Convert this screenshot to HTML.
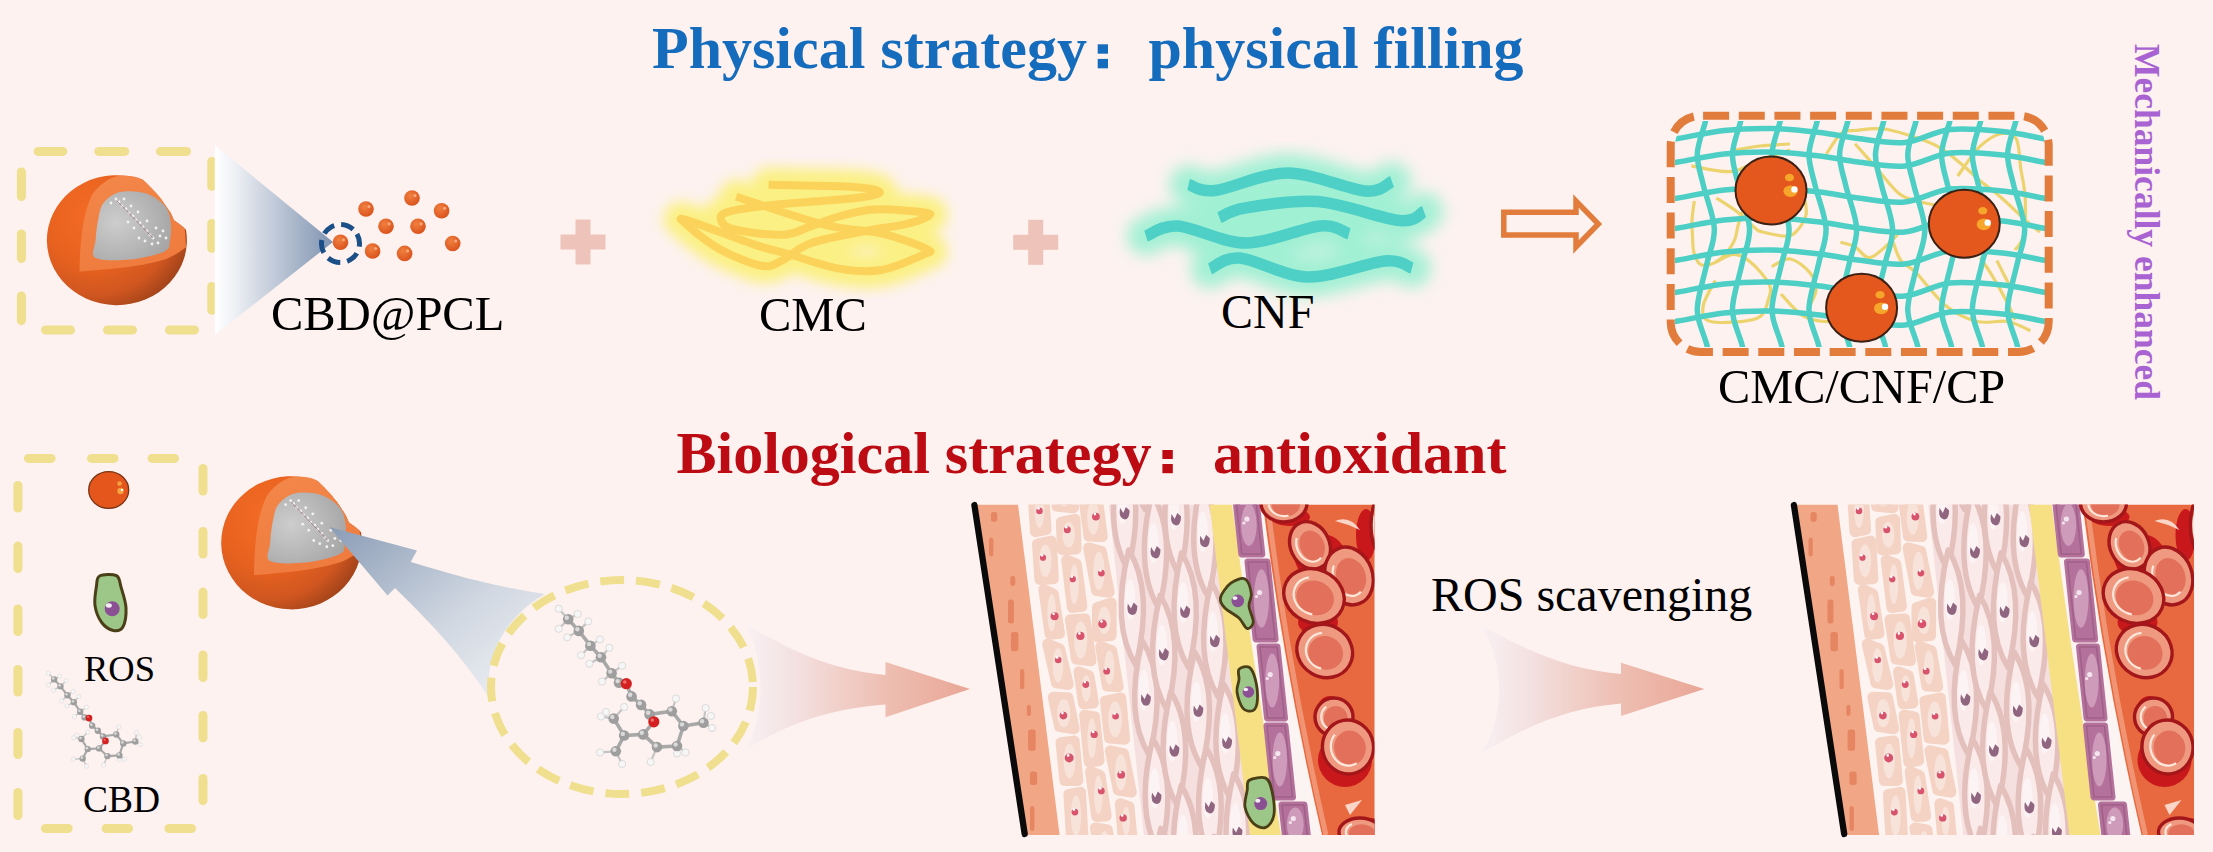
<!DOCTYPE html>
<html><head><meta charset="utf-8"><title>CMC/CNF/CP strategy</title>
<style>
html,body{margin:0;padding:0;width:2213px;height:852px;overflow:hidden;background:#fdf2ef;}
svg{display:block;}
text{font-family:"Liberation Serif",serif;font-variant-ligatures:none;}
</style></head><body>
<svg width="2213" height="852" viewBox="0 0 2213 852">
<defs>
<linearGradient id="coneG" x1="0" y1="0" x2="1" y2="0">
  <stop offset="0" stop-color="#ffffff"/><stop offset="0.15" stop-color="#f0f2f6"/><stop offset="1" stop-color="#7f93b0"/>
</linearGradient>
<radialGradient id="orangeG" gradientUnits="userSpaceOnUse" cx="95" cy="215" r="100">
  <stop offset="0" stop-color="#f46c26"/><stop offset="0.5" stop-color="#e8621f"/><stop offset="0.8" stop-color="#d05620"/><stop offset="1" stop-color="#a4441a"/>
</radialGradient>
<linearGradient id="cutG" x1="0" y1="0" x2="0.3" y2="1">
  <stop offset="0" stop-color="#f3874a"/><stop offset="1" stop-color="#ef7c3e"/>
</linearGradient>
<radialGradient id="greyG" cx="0.3" cy="0.45" r="0.8">
  <stop offset="0" stop-color="#cdcdcd"/><stop offset="0.6" stop-color="#b4b4b4"/><stop offset="1" stop-color="#a2a2a2"/>
</radialGradient>
<radialGradient id="dotG" cx="0.4" cy="0.35" r="0.7">
  <stop offset="0" stop-color="#f08040"/><stop offset="1" stop-color="#d9501a"/>
</radialGradient>
<linearGradient id="pinkArrG" x1="0" y1="0" x2="1" y2="0">
  <stop offset="0" stop-color="#f8f0f3"/><stop offset="0.2" stop-color="#f4e2e2"/><stop offset="0.6" stop-color="#eec0b4"/><stop offset="1" stop-color="#e9a696"/>
</linearGradient>
<linearGradient id="blueArrG" x1="1" y1="1" x2="0" y2="0">
  <stop offset="0" stop-color="#f4f4f7"/><stop offset="0.45" stop-color="#d0d7e1"/><stop offset="1" stop-color="#8a9cb6"/>
</linearGradient>
<filter id="blur6" x="-30%" y="-30%" width="160%" height="160%"><feGaussianBlur stdDeviation="6.5"/></filter>
<filter id="blur8" x="-30%" y="-30%" width="160%" height="160%"><feGaussianBlur stdDeviation="8"/></filter>
<filter id="blur4" x="-30%" y="-30%" width="160%" height="160%"><feGaussianBlur stdDeviation="5"/></filter>
<g id="mol"><line x1="568.2" y1="619.3" x2="578.8" y2="630.9" stroke="#a8a8a8" stroke-width="3.6"/>
<line x1="578.8" y1="630.9" x2="590.4" y2="645.7" stroke="#a8a8a8" stroke-width="3.6"/>
<line x1="590.4" y1="645.7" x2="601" y2="657.3" stroke="#a8a8a8" stroke-width="3.6"/>
<line x1="601" y1="657.3" x2="611.6" y2="673.2" stroke="#a8a8a8" stroke-width="3.6"/>
<line x1="611.6" y1="673.2" x2="619" y2="682.7" stroke="#a8a8a8" stroke-width="3.6"/>
<line x1="619" y1="682.7" x2="626.3" y2="683.7" stroke="#a8a8a8" stroke-width="3.6"/>
<line x1="626.3" y1="683.7" x2="631.6" y2="696.4" stroke="#a8a8a8" stroke-width="3.6"/>
<line x1="631.6" y1="696.4" x2="641.1" y2="704.9" stroke="#a8a8a8" stroke-width="3.6"/>
<line x1="641.1" y1="704.9" x2="649.6" y2="714.4" stroke="#a8a8a8" stroke-width="3.6"/>
<line x1="649.6" y1="714.4" x2="653.8" y2="721.8" stroke="#a8a8a8" stroke-width="3.6"/>
<line x1="649.6" y1="714.4" x2="671.8" y2="711.2" stroke="#a8a8a8" stroke-width="3.6"/>
<line x1="671.8" y1="711.2" x2="683.4" y2="726" stroke="#a8a8a8" stroke-width="3.6"/>
<line x1="683.4" y1="726" x2="703.5" y2="722.8" stroke="#a8a8a8" stroke-width="3.6"/>
<line x1="683.4" y1="726" x2="677" y2="746" stroke="#a8a8a8" stroke-width="3.6"/>
<line x1="677" y1="746" x2="657" y2="747.1" stroke="#a8a8a8" stroke-width="3.6"/>
<line x1="657" y1="747.1" x2="643.2" y2="734.4" stroke="#a8a8a8" stroke-width="3.6"/>
<line x1="643.2" y1="734.4" x2="653.8" y2="721.8" stroke="#a8a8a8" stroke-width="3.6"/>
<line x1="643.2" y1="734.4" x2="624.2" y2="735.5" stroke="#a8a8a8" stroke-width="3.6"/>
<line x1="624.2" y1="735.5" x2="615.8" y2="751.3" stroke="#a8a8a8" stroke-width="3.6"/>
<line x1="624.2" y1="735.5" x2="613.7" y2="718.6" stroke="#a8a8a8" stroke-width="3.6"/>
<line x1="558.7" y1="608.7" x2="568.2" y2="619.3" stroke="#c4c4c4" stroke-width="2.2"/>
<line x1="577.7" y1="614" x2="568.2" y2="619.3" stroke="#c4c4c4" stroke-width="2.2"/>
<line x1="558.7" y1="628.8" x2="568.2" y2="619.3" stroke="#c4c4c4" stroke-width="2.2"/>
<line x1="567.2" y1="637.3" x2="578.8" y2="630.9" stroke="#c4c4c4" stroke-width="2.2"/>
<line x1="588.3" y1="621.4" x2="578.8" y2="630.9" stroke="#c4c4c4" stroke-width="2.2"/>
<line x1="600" y1="639.4" x2="590.4" y2="645.7" stroke="#c4c4c4" stroke-width="2.2"/>
<line x1="581" y1="655.2" x2="590.4" y2="645.7" stroke="#c4c4c4" stroke-width="2.2"/>
<line x1="609.4" y1="647.8" x2="601" y2="657.3" stroke="#c4c4c4" stroke-width="2.2"/>
<line x1="589.4" y1="663.7" x2="601" y2="657.3" stroke="#c4c4c4" stroke-width="2.2"/>
<line x1="622.1" y1="665.8" x2="611.6" y2="673.2" stroke="#c4c4c4" stroke-width="2.2"/>
<line x1="602" y1="681.6" x2="611.6" y2="673.2" stroke="#c4c4c4" stroke-width="2.2"/>
<line x1="676" y1="698.5" x2="671.8" y2="711.2" stroke="#c4c4c4" stroke-width="2.2"/>
<line x1="705.6" y1="708" x2="703.5" y2="722.8" stroke="#c4c4c4" stroke-width="2.2"/>
<line x1="712" y1="728" x2="703.5" y2="722.8" stroke="#c4c4c4" stroke-width="2.2"/>
<line x1="601" y1="716.5" x2="613.7" y2="718.6" stroke="#c4c4c4" stroke-width="2.2"/>
<line x1="624.2" y1="707" x2="613.7" y2="718.6" stroke="#c4c4c4" stroke-width="2.2"/>
<line x1="600" y1="752.4" x2="615.8" y2="751.3" stroke="#c4c4c4" stroke-width="2.2"/>
<line x1="622.1" y1="764" x2="615.8" y2="751.3" stroke="#c4c4c4" stroke-width="2.2"/>
<line x1="650.6" y1="762" x2="657" y2="747.1" stroke="#c4c4c4" stroke-width="2.2"/>
<line x1="677" y1="753.5" x2="677" y2="746" stroke="#c4c4c4" stroke-width="2.2"/>
<line x1="685.5" y1="752.4" x2="677" y2="746" stroke="#c4c4c4" stroke-width="2.2"/>
<circle cx="558.7" cy="608.7" r="3.6" fill="#f6f6f6" stroke="#d0d0d0" stroke-width="0.7"/>
<circle cx="577.7" cy="614" r="3.6" fill="#f6f6f6" stroke="#d0d0d0" stroke-width="0.7"/>
<circle cx="588.3" cy="621.4" r="3.6" fill="#f6f6f6" stroke="#d0d0d0" stroke-width="0.7"/>
<circle cx="558.7" cy="628.8" r="3.6" fill="#f6f6f6" stroke="#d0d0d0" stroke-width="0.7"/>
<circle cx="567.2" cy="637.3" r="3.6" fill="#f6f6f6" stroke="#d0d0d0" stroke-width="0.7"/>
<circle cx="600" cy="639.4" r="3.6" fill="#f6f6f6" stroke="#d0d0d0" stroke-width="0.7"/>
<circle cx="609.4" cy="647.8" r="3.6" fill="#f6f6f6" stroke="#d0d0d0" stroke-width="0.7"/>
<circle cx="581" cy="655.2" r="3.6" fill="#f6f6f6" stroke="#d0d0d0" stroke-width="0.7"/>
<circle cx="589.4" cy="663.7" r="3.6" fill="#f6f6f6" stroke="#d0d0d0" stroke-width="0.7"/>
<circle cx="622.1" cy="665.8" r="3.6" fill="#f6f6f6" stroke="#d0d0d0" stroke-width="0.7"/>
<circle cx="602" cy="681.6" r="3.6" fill="#f6f6f6" stroke="#d0d0d0" stroke-width="0.7"/>
<circle cx="676" cy="698.5" r="3.6" fill="#f6f6f6" stroke="#d0d0d0" stroke-width="0.7"/>
<circle cx="705.6" cy="708" r="3.6" fill="#f6f6f6" stroke="#d0d0d0" stroke-width="0.7"/>
<circle cx="712" cy="728" r="3.6" fill="#f6f6f6" stroke="#d0d0d0" stroke-width="0.7"/>
<circle cx="601" cy="716.5" r="3.6" fill="#f6f6f6" stroke="#d0d0d0" stroke-width="0.7"/>
<circle cx="624.2" cy="707" r="3.6" fill="#f6f6f6" stroke="#d0d0d0" stroke-width="0.7"/>
<circle cx="600" cy="752.4" r="3.6" fill="#f6f6f6" stroke="#d0d0d0" stroke-width="0.7"/>
<circle cx="622.1" cy="764" r="3.6" fill="#f6f6f6" stroke="#d0d0d0" stroke-width="0.7"/>
<circle cx="650.6" cy="762" r="3.6" fill="#f6f6f6" stroke="#d0d0d0" stroke-width="0.7"/>
<circle cx="677" cy="753.5" r="3.6" fill="#f6f6f6" stroke="#d0d0d0" stroke-width="0.7"/>
<circle cx="685.5" cy="752.4" r="3.6" fill="#f6f6f6" stroke="#d0d0d0" stroke-width="0.7"/>
<circle cx="711" cy="716" r="3.6" fill="#f6f6f6" stroke="#d0d0d0" stroke-width="0.7"/>
<circle cx="606" cy="712" r="3.6" fill="#f6f6f6" stroke="#d0d0d0" stroke-width="0.7"/>
<circle cx="568.2" cy="619.3" r="5.3" fill="#9e9e9e"/><circle cx="566.8000000000001" cy="617.6999999999999" r="2.2" fill="#dadada"/>
<circle cx="578.8" cy="630.9" r="5.3" fill="#9e9e9e"/><circle cx="577.4" cy="629.3" r="2.2" fill="#dadada"/>
<circle cx="590.4" cy="645.7" r="5.3" fill="#9e9e9e"/><circle cx="589.0" cy="644.1" r="2.2" fill="#dadada"/>
<circle cx="601" cy="657.3" r="5.3" fill="#9e9e9e"/><circle cx="599.6" cy="655.6999999999999" r="2.2" fill="#dadada"/>
<circle cx="611.6" cy="673.2" r="5.3" fill="#9e9e9e"/><circle cx="610.2" cy="671.6" r="2.2" fill="#dadada"/>
<circle cx="619" cy="682.7" r="5.3" fill="#9e9e9e"/><circle cx="617.6" cy="681.1" r="2.2" fill="#dadada"/>
<circle cx="626.3" cy="683.7" r="5.6" fill="#d42020"/><circle cx="624.8" cy="682.0" r="1.8" fill="#f07070"/>
<circle cx="631.6" cy="696.4" r="5.3" fill="#9e9e9e"/><circle cx="630.2" cy="694.8" r="2.2" fill="#dadada"/>
<circle cx="641.1" cy="704.9" r="5.3" fill="#9e9e9e"/><circle cx="639.7" cy="703.3" r="2.2" fill="#dadada"/>
<circle cx="649.6" cy="714.4" r="5.3" fill="#9e9e9e"/><circle cx="648.2" cy="712.8" r="2.2" fill="#dadada"/>
<circle cx="653.8" cy="721.8" r="5.6" fill="#d42020"/><circle cx="652.3" cy="720.0999999999999" r="1.8" fill="#f07070"/>
<circle cx="671.8" cy="711.2" r="5.3" fill="#9e9e9e"/><circle cx="670.4" cy="709.6" r="2.2" fill="#dadada"/>
<circle cx="683.4" cy="726" r="5.3" fill="#9e9e9e"/><circle cx="682.0" cy="724.4" r="2.2" fill="#dadada"/>
<circle cx="703.5" cy="722.8" r="5.3" fill="#9e9e9e"/><circle cx="702.1" cy="721.1999999999999" r="2.2" fill="#dadada"/>
<circle cx="677" cy="746" r="5.3" fill="#9e9e9e"/><circle cx="675.6" cy="744.4" r="2.2" fill="#dadada"/>
<circle cx="657" cy="747.1" r="5.3" fill="#9e9e9e"/><circle cx="655.6" cy="745.5" r="2.2" fill="#dadada"/>
<circle cx="643.2" cy="734.4" r="5.3" fill="#9e9e9e"/><circle cx="641.8000000000001" cy="732.8" r="2.2" fill="#dadada"/>
<circle cx="624.2" cy="735.5" r="5.3" fill="#9e9e9e"/><circle cx="622.8000000000001" cy="733.9" r="2.2" fill="#dadada"/>
<circle cx="615.8" cy="751.3" r="5.3" fill="#9e9e9e"/><circle cx="614.4" cy="749.6999999999999" r="2.2" fill="#dadada"/>
<circle cx="613.7" cy="718.6" r="5.3" fill="#9e9e9e"/><circle cx="612.3000000000001" cy="717.0" r="2.2" fill="#dadada"/></g><g id="sphere"><path d="M142.9,179.8 A70,65 0 1,0 186,229.8 L184.7,228.4 C180,224 176,222 174,220.3 C172,216 171,213 170,212 C166,206 163,202 161.8,200 C157,194 154,191 151,189.3 C148,186 145,182 142.9,179.8 Z" fill="url(#orangeG)"/>
<path d="M79.5,271.6 C80,245 82,215 92,195 C98,186 108,178 118,176 C128,175 137,176 142.9,179.8 C148,184 156,192 161.8,200 C166,206 169,210 170,212 C172,215 173,219 174,220.3 C178,223 182,226 184.7,228.4 L186,247.3 C180,252 172,257 164.5,259.5 C150,264 135,266 124,267.6 C108,269 92,271 79.5,271.6 Z" fill="url(#cutG)"/>
<path d="M103.7,202.8 C107.3,198.3 113.0,193.6 120.0,192.0 C127.0,190.4 138.2,191.1 145.6,193.3 C153.0,195.6 160.3,200.8 164.5,205.5 C168.7,210.2 169.7,215.8 170.6,221.7 C171.5,227.5 171.0,235.6 170.0,240.6 C169.0,245.6 171.1,248.2 164.5,251.4 C157.9,254.6 142.2,258.4 130.7,259.5 C119.2,260.6 101.4,261.1 95.6,258.0 C89.8,254.8 95.1,247.1 95.6,240.6 C96.0,234.1 96.9,225.3 98.3,219.0 C99.7,212.7 100.1,207.3 103.7,202.8 Z" fill="url(#greyG)"/>
<circle cx="116" cy="199" r="1.4" fill="#f2f2f2"/>
<circle cx="119" cy="202" r="1.4" fill="#f2f2f2"/>
<circle cx="122" cy="206" r="1.4" fill="#f2f2f2"/>
<circle cx="126" cy="209" r="1.4" fill="#f2f2f2"/>
<circle cx="129" cy="213" r="1.4" fill="#f2f2f2"/>
<circle cx="133" cy="216" r="1.4" fill="#f2f2f2"/>
<circle cx="136" cy="220" r="1.4" fill="#f2f2f2"/>
<circle cx="140" cy="223" r="1.4" fill="#f2f2f2"/>
<circle cx="143" cy="227" r="1.4" fill="#f2f2f2"/>
<circle cx="147" cy="231" r="1.4" fill="#f2f2f2"/>
<circle cx="150" cy="235" r="1.4" fill="#f2f2f2"/>
<circle cx="153" cy="238" r="1.4" fill="#f2f2f2"/>
<circle cx="111" cy="203" r="1.4" fill="#f2f2f2"/>
<circle cx="124" cy="199" r="1.4" fill="#f2f2f2"/>
<circle cx="131" cy="206" r="1.4" fill="#f2f2f2"/>
<circle cx="138" cy="212" r="1.4" fill="#f2f2f2"/>
<circle cx="128" cy="222" r="1.4" fill="#f2f2f2"/>
<circle cx="134" cy="228" r="1.4" fill="#f2f2f2"/>
<circle cx="139" cy="238" r="1.4" fill="#f2f2f2"/>
<circle cx="145" cy="241" r="1.4" fill="#f2f2f2"/>
<circle cx="152" cy="244" r="1.4" fill="#f2f2f2"/>
<circle cx="158" cy="243" r="1.4" fill="#f2f2f2"/>
<circle cx="160" cy="236" r="1.4" fill="#f2f2f2"/>
<circle cx="163" cy="231" r="1.4" fill="#f2f2f2"/>
<circle cx="166" cy="238" r="1.4" fill="#f2f2f2"/>
<circle cx="156" cy="228" r="1.4" fill="#f2f2f2"/>
<circle cx="147" cy="221" r="1.4" fill="#f2f2f2"/>
<path d="M117,201 L153,238" stroke="#8a5a60" stroke-width="0.9" opacity="0.7"/></g><g id="tissue"><clipPath id="tclip"><polygon points="974,504.6 1374.5,504.6 1374.5,835 1024,835"/></clipPath>
<g clip-path="url(#tclip)">
<polygon points="974,504.6 1374.5,504.6 1374.5,835 1024,835" fill="#fdf4f1"/>
<polygon points="977,504.6 1018,504.6 1059.6,835 1027,835" fill="#f1a686"/>
<rect x="991.0" y="512.0" width="6.2" height="9.7" rx="2.5" fill="#e47f5a" opacity="0.85"/>
<rect x="989.0" y="537.4" width="4.3" height="19.0" rx="2.5" fill="#e47f5a" opacity="0.85"/>
<rect x="1010.3" y="575.8" width="4.9" height="10.2" rx="2.5" fill="#e47f5a" opacity="0.85"/>
<rect x="1008.0" y="599.5" width="5.9" height="24.1" rx="2.5" fill="#e47f5a" opacity="0.85"/>
<rect x="1010.9" y="632.0" width="7.5" height="19.2" rx="2.5" fill="#e47f5a" opacity="0.85"/>
<rect x="1020.0" y="669.1" width="4.3" height="20.1" rx="2.5" fill="#e47f5a" opacity="0.85"/>
<rect x="1026.9" y="704.7" width="4.1" height="11.2" rx="2.5" fill="#e47f5a" opacity="0.85"/>
<rect x="1028.1" y="729.5" width="7.5" height="21.3" rx="2.5" fill="#e47f5a" opacity="0.85"/>
<rect x="1029.9" y="771.5" width="7.2" height="13.5" rx="2.5" fill="#e47f5a" opacity="0.85"/>
<rect x="1030.0" y="805.9" width="4.4" height="25.1" rx="2.5" fill="#e47f5a" opacity="0.85"/>
<polygon points="1032.9,492.4 1043.6,492.7 1046.1,529.6 1035.5,531.7" fill="#f4d3c5" stroke="#f4d3c5" stroke-width="11" stroke-linejoin="round"/>
<ellipse cx="1039.5" cy="511.1" rx="4.8" ry="16.7" fill="#f8e3da"/>
<circle cx="1039.5" cy="510.9" r="3.3" fill="#d8546c"/><circle cx="1038.5" cy="508.4" r="1.3" fill="#fff"/>
<polygon points="1037.5,544.1 1051.2,541.1 1053.4,578.8 1039.8,579.5" fill="#f4d3c5" stroke="#f4d3c5" stroke-width="11" stroke-linejoin="round"/>
<ellipse cx="1045.4" cy="560.7" rx="6.2" ry="16.3" fill="#f8e3da"/>
<circle cx="1043.0" cy="557.7" r="3.1" fill="#d8546c"/><circle cx="1042.0" cy="555.2" r="1.3" fill="#fff"/>
<polygon points="1043.8,589.5 1053.3,594.1 1059.5,633.4 1050.2,634.4" fill="#f4d3c5" stroke="#f4d3c5" stroke-width="11" stroke-linejoin="round"/>
<ellipse cx="1051.7" cy="612.6" rx="4.3" ry="18.7" fill="#f8e3da"/>
<circle cx="1054.6" cy="616.3" r="4.0" fill="#d8546c"/><circle cx="1053.6" cy="613.8" r="1.3" fill="#fff"/>
<polygon points="1047.7,644.0 1059.6,648.8 1068.3,684.5 1056.5,682.8" fill="#f4d3c5" stroke="#f4d3c5" stroke-width="11" stroke-linejoin="round"/>
<ellipse cx="1058.0" cy="665.4" rx="5.3" ry="17.1" fill="#f8e3da"/>
<circle cx="1058.2" cy="660.0" r="3.3" fill="#d8546c"/><circle cx="1057.2" cy="657.5" r="1.3" fill="#fff"/>
<polygon points="1053.3,697.3 1067.9,697.7 1074.2,728.8 1059.6,726.5" fill="#f4d3c5" stroke="#f4d3c5" stroke-width="11" stroke-linejoin="round"/>
<ellipse cx="1063.7" cy="713.2" rx="6.6" ry="14.1" fill="#f8e3da"/>
<circle cx="1063.4" cy="715.6" r="3.8" fill="#d8546c"/><circle cx="1062.4" cy="713.1" r="1.3" fill="#fff"/>
<polygon points="1061.0,742.6 1074.2,741.0 1077.9,780.4 1064.9,780.4" fill="#f4d3c5" stroke="#f4d3c5" stroke-width="11" stroke-linejoin="round"/>
<ellipse cx="1069.5" cy="761.1" rx="5.9" ry="17.3" fill="#f8e3da"/>
<circle cx="1069.2" cy="757.9" r="4.5" fill="#d8546c"/><circle cx="1068.2" cy="755.4" r="1.3" fill="#fff"/>
<polygon points="1068.9,794.4 1080.5,792.3 1083.1,838.3 1071.6,840.0" fill="#f4d3c5" stroke="#f4d3c5" stroke-width="11" stroke-linejoin="round"/>
<ellipse cx="1076.0" cy="815.8" rx="5.2" ry="20.2" fill="#f8e3da"/>
<circle cx="1074.9" cy="812.1" r="3.4" fill="#d8546c"/><circle cx="1073.9" cy="809.6" r="1.3" fill="#fff"/>
<polygon points="1075.6,850.8 1085.8,851.8 1088.3,879.5 1078.2,880.9" fill="#f4d3c5" stroke="#f4d3c5" stroke-width="11" stroke-linejoin="round"/>
<ellipse cx="1082.0" cy="865.4" rx="4.6" ry="12.7" fill="#f8e3da"/>
<circle cx="1084.0" cy="863.3" r="4.4" fill="#d8546c"/><circle cx="1083.0" cy="860.8" r="1.3" fill="#fff"/>
<polygon points="1054.5,482.7 1071.1,478.6 1073.5,507.7 1057.1,506.2" fill="#f4d3c5" stroke="#f4d3c5" stroke-width="11" stroke-linejoin="round"/>
<ellipse cx="1064.0" cy="494.2" rx="7.4" ry="12.2" fill="#f8e3da"/>
<circle cx="1063.9" cy="498.0" r="3.6" fill="#d8546c"/><circle cx="1062.9" cy="495.5" r="1.3" fill="#fff"/>
<polygon points="1061.3,522.1 1075.0,519.3 1076.1,549.0 1062.5,549.7" fill="#f4d3c5" stroke="#f4d3c5" stroke-width="11" stroke-linejoin="round"/>
<ellipse cx="1068.7" cy="534.8" rx="6.2" ry="12.7" fill="#f8e3da"/>
<circle cx="1067.3" cy="529.7" r="3.5" fill="#d8546c"/><circle cx="1066.3" cy="527.2" r="1.3" fill="#fff"/>
<polygon points="1066.7,560.1 1076.3,563.9 1081.9,606.4 1072.4,607.6" fill="#f4d3c5" stroke="#f4d3c5" stroke-width="11" stroke-linejoin="round"/>
<ellipse cx="1074.3" cy="584.2" rx="4.3" ry="20.0" fill="#f8e3da"/>
<circle cx="1072.8" cy="579.2" r="3.1" fill="#d8546c"/><circle cx="1071.8" cy="576.7" r="1.3" fill="#fff"/>
<polygon points="1070.4,619.7 1085.0,619.1 1091.0,660.7 1076.5,659.1" fill="#f4d3c5" stroke="#f4d3c5" stroke-width="11" stroke-linejoin="round"/>
<ellipse cx="1080.7" cy="640.0" rx="6.6" ry="18.6" fill="#f8e3da"/>
<circle cx="1080.4" cy="635.9" r="4.1" fill="#d8546c"/><circle cx="1079.4" cy="633.4" r="1.3" fill="#fff"/>
<polygon points="1079.0,671.8 1088.9,675.6 1093.4,703.1 1083.6,703.8" fill="#f4d3c5" stroke="#f4d3c5" stroke-width="11" stroke-linejoin="round"/>
<ellipse cx="1086.2" cy="688.4" rx="4.5" ry="13.2" fill="#f8e3da"/>
<circle cx="1085.8" cy="684.5" r="3.4" fill="#d8546c"/><circle cx="1084.8" cy="682.0" r="1.3" fill="#fff"/>
<polygon points="1084.7,715.1 1094.6,717.0 1099.1,760.5 1089.3,762.1" fill="#f4d3c5" stroke="#f4d3c5" stroke-width="11" stroke-linejoin="round"/>
<ellipse cx="1091.9" cy="738.3" rx="4.5" ry="20.0" fill="#f8e3da"/>
<circle cx="1094.2" cy="734.4" r="3.6" fill="#d8546c"/><circle cx="1093.2" cy="731.9" r="1.3" fill="#fff"/>
<polygon points="1090.6,771.5 1100.1,775.5 1106.2,815.9 1096.7,816.6" fill="#f4d3c5" stroke="#f4d3c5" stroke-width="11" stroke-linejoin="round"/>
<ellipse cx="1098.4" cy="794.7" rx="4.3" ry="19.1" fill="#f8e3da"/>
<circle cx="1101.3" cy="790.9" r="3.4" fill="#d8546c"/><circle cx="1100.3" cy="788.4" r="1.3" fill="#fff"/>
<polygon points="1095.4,827.9 1107.3,829.9 1113.8,869.8 1102.0,869.0" fill="#f4d3c5" stroke="#f4d3c5" stroke-width="11" stroke-linejoin="round"/>
<ellipse cx="1104.6" cy="849.4" rx="5.4" ry="18.4" fill="#f8e3da"/>
<circle cx="1102.1" cy="844.3" r="3.9" fill="#d8546c"/><circle cx="1101.1" cy="841.8" r="1.3" fill="#fff"/>
<polygon points="1084.0,498.6 1097.4,499.0 1102.3,536.6 1089.0,536.0" fill="#f4d3c5" stroke="#f4d3c5" stroke-width="11" stroke-linejoin="round"/>
<ellipse cx="1093.2" cy="517.7" rx="6.0" ry="17.0" fill="#f8e3da"/>
<circle cx="1095.9" cy="516.6" r="3.9" fill="#d8546c"/><circle cx="1094.9" cy="514.1" r="1.3" fill="#fff"/>
<polygon points="1088.6,547.9 1101.3,551.4 1109.2,592.2 1096.6,590.6" fill="#f4d3c5" stroke="#f4d3c5" stroke-width="11" stroke-linejoin="round"/>
<ellipse cx="1098.9" cy="570.9" rx="5.7" ry="19.2" fill="#f8e3da"/>
<circle cx="1101.4" cy="573.1" r="3.4" fill="#d8546c"/><circle cx="1100.4" cy="570.6" r="1.3" fill="#fff"/>
<polygon points="1097.5,607.4 1111.2,603.0 1111.1,635.6 1097.5,636.8" fill="#f4d3c5" stroke="#f4d3c5" stroke-width="11" stroke-linejoin="round"/>
<ellipse cx="1104.3" cy="620.4" rx="6.2" ry="13.7" fill="#f8e3da"/>
<circle cx="1102.5" cy="623.9" r="4.3" fill="#d8546c"/><circle cx="1101.5" cy="621.4" r="1.3" fill="#fff"/>
<polygon points="1100.7,646.7 1111.7,650.6 1118.2,686.5 1107.3,686.1" fill="#f4d3c5" stroke="#f4d3c5" stroke-width="11" stroke-linejoin="round"/>
<ellipse cx="1109.4" cy="667.6" rx="5.0" ry="17.0" fill="#f8e3da"/>
<circle cx="1106.7" cy="671.2" r="3.4" fill="#d8546c"/><circle cx="1105.7" cy="668.7" r="1.3" fill="#fff"/>
<polygon points="1105.5,701.1 1120.8,697.9 1124.6,739.2 1109.5,738.0" fill="#f4d3c5" stroke="#f4d3c5" stroke-width="11" stroke-linejoin="round"/>
<ellipse cx="1115.1" cy="719.4" rx="6.9" ry="17.9" fill="#f8e3da"/>
<circle cx="1115.6" cy="716.3" r="3.3" fill="#d8546c"/><circle cx="1114.6" cy="713.8" r="1.3" fill="#fff"/>
<polygon points="1110.4,750.8 1123.5,753.6 1131.3,792.2 1118.3,790.0" fill="#f4d3c5" stroke="#f4d3c5" stroke-width="11" stroke-linejoin="round"/>
<ellipse cx="1120.8" cy="772.2" rx="5.9" ry="18.0" fill="#f8e3da"/>
<circle cx="1121.2" cy="774.7" r="3.9" fill="#d8546c"/><circle cx="1120.2" cy="772.2" r="1.3" fill="#fff"/>
<polygon points="1120.4,803.7 1129.0,806.6 1131.9,837.2 1123.3,839.3" fill="#f4d3c5" stroke="#f4d3c5" stroke-width="11" stroke-linejoin="round"/>
<ellipse cx="1126.1" cy="821.2" rx="3.9" ry="14.4" fill="#f8e3da"/>
<circle cx="1123.2" cy="817.9" r="3.7" fill="#d8546c"/><circle cx="1122.2" cy="815.4" r="1.3" fill="#fff"/>
<polygon points="1121.7,849.5 1134.7,850.9 1140.0,878.3 1127.0,876.7" fill="#f4d3c5" stroke="#f4d3c5" stroke-width="11" stroke-linejoin="round"/>
<ellipse cx="1130.8" cy="864.2" rx="5.9" ry="12.6" fill="#f8e3da"/>
<circle cx="1131.3" cy="859.6" r="3.5" fill="#d8546c"/><circle cx="1130.3" cy="857.1" r="1.3" fill="#fff"/>
<polygon points="1108.8,504.6 1214,504.6 1252,835 1143.8,835" fill="#f5e0df"/>
<path d="M1110.5,355.9 Q1135.6,396.2 1117.6,471.1 Q1092.5,430.7 1110.5,355.9 Z" fill="#faeaea" stroke="#e4c0bd" stroke-width="5.5" stroke-linejoin="round"/>
<path d="M1121.0,454.3 Q1146.3,494.6 1128.2,569.5 Q1103.0,529.2 1121.0,454.3 Z" fill="#faeaea" stroke="#e4c0bd" stroke-width="5.5" stroke-linejoin="round"/>
<path d="M1128.7,550.0 Q1154.1,590.4 1135.9,665.2 Q1110.5,624.9 1128.7,550.0 Z" fill="#faeaea" stroke="#e4c0bd" stroke-width="5.5" stroke-linejoin="round"/>
<path d="M1142.2,640.6 Q1167.8,680.9 1149.5,755.8 Q1124.0,715.4 1142.2,640.6 Z" fill="#faeaea" stroke="#e4c0bd" stroke-width="5.5" stroke-linejoin="round"/>
<path d="M1152.8,738.8 Q1178.5,779.1 1160.2,854.0 Q1134.5,813.6 1152.8,738.8 Z" fill="#faeaea" stroke="#e4c0bd" stroke-width="5.5" stroke-linejoin="round"/>
<path d="M1160.9,828.3 Q1186.7,868.6 1168.3,943.5 Q1142.5,903.2 1160.9,828.3 Z" fill="#faeaea" stroke="#e4c0bd" stroke-width="5.5" stroke-linejoin="round"/>
<path d="M1171.9,925.9 Q1197.8,966.2 1179.3,1041.1 Q1153.4,1000.8 1171.9,925.9 Z" fill="#faeaea" stroke="#e4c0bd" stroke-width="5.5" stroke-linejoin="round"/>
<path d="M1138.0,394.3 Q1163.2,434.7 1145.2,509.5 Q1120.1,469.2 1138.0,394.3 Z" fill="#faeaea" stroke="#e4c0bd" stroke-width="5.5" stroke-linejoin="round"/>
<path d="M1151.9,493.5 Q1177.2,533.9 1159.1,608.7 Q1133.8,568.4 1151.9,493.5 Z" fill="#faeaea" stroke="#e4c0bd" stroke-width="5.5" stroke-linejoin="round"/>
<path d="M1160.1,595.4 Q1185.6,635.7 1167.4,710.6 Q1141.9,670.3 1160.1,595.4 Z" fill="#faeaea" stroke="#e4c0bd" stroke-width="5.5" stroke-linejoin="round"/>
<path d="M1170.7,691.7 Q1196.3,732.1 1178.1,806.9 Q1152.5,766.6 1170.7,691.7 Z" fill="#faeaea" stroke="#e4c0bd" stroke-width="5.5" stroke-linejoin="round"/>
<path d="M1181.1,785.6 Q1206.9,825.9 1188.5,900.8 Q1162.7,860.5 1181.1,785.6 Z" fill="#faeaea" stroke="#e4c0bd" stroke-width="5.5" stroke-linejoin="round"/>
<path d="M1193.9,874.2 Q1219.8,914.5 1201.3,989.4 Q1175.5,949.1 1193.9,874.2 Z" fill="#faeaea" stroke="#e4c0bd" stroke-width="5.5" stroke-linejoin="round"/>
<path d="M1202.2,972.7 Q1228.3,1013.0 1209.7,1087.9 Q1183.7,1047.6 1202.2,972.7 Z" fill="#faeaea" stroke="#e4c0bd" stroke-width="5.5" stroke-linejoin="round"/>
<path d="M1160.5,363.2 Q1185.6,403.5 1167.7,478.4 Q1142.6,438.1 1160.5,363.2 Z" fill="#faeaea" stroke="#e4c0bd" stroke-width="5.5" stroke-linejoin="round"/>
<path d="M1172.4,460.3 Q1197.7,500.6 1179.6,575.5 Q1154.4,535.1 1172.4,460.3 Z" fill="#faeaea" stroke="#e4c0bd" stroke-width="5.5" stroke-linejoin="round"/>
<path d="M1181.5,552.9 Q1206.9,593.2 1188.8,668.1 Q1163.4,627.7 1181.5,552.9 Z" fill="#faeaea" stroke="#e4c0bd" stroke-width="5.5" stroke-linejoin="round"/>
<path d="M1194.6,652.0 Q1220.1,692.3 1201.9,767.2 Q1176.4,726.9 1194.6,652.0 Z" fill="#faeaea" stroke="#e4c0bd" stroke-width="5.5" stroke-linejoin="round"/>
<path d="M1206.3,748.3 Q1231.9,788.6 1213.6,863.5 Q1187.9,823.2 1206.3,748.3 Z" fill="#faeaea" stroke="#e4c0bd" stroke-width="5.5" stroke-linejoin="round"/>
<path d="M1214.0,836.3 Q1239.8,876.6 1221.4,951.5 Q1195.6,911.2 1214.0,836.3 Z" fill="#faeaea" stroke="#e4c0bd" stroke-width="5.5" stroke-linejoin="round"/>
<path d="M1223.8,930.7 Q1249.7,971.0 1231.2,1045.9 Q1205.2,1005.6 1223.8,930.7 Z" fill="#faeaea" stroke="#e4c0bd" stroke-width="5.5" stroke-linejoin="round"/>
<path d="M1190.4,389.7 Q1215.5,430.0 1197.6,504.9 Q1172.4,464.5 1190.4,389.7 Z" fill="#faeaea" stroke="#e4c0bd" stroke-width="5.5" stroke-linejoin="round"/>
<path d="M1201.2,482.1 Q1226.5,522.4 1208.5,597.3 Q1183.2,557.0 1201.2,482.1 Z" fill="#faeaea" stroke="#e4c0bd" stroke-width="5.5" stroke-linejoin="round"/>
<path d="M1211.2,582.1 Q1236.6,622.4 1218.4,697.3 Q1193.0,657.0 1211.2,582.1 Z" fill="#faeaea" stroke="#e4c0bd" stroke-width="5.5" stroke-linejoin="round"/>
<path d="M1223.5,683.9 Q1249.0,724.2 1230.8,799.1 Q1205.2,758.7 1223.5,683.9 Z" fill="#faeaea" stroke="#e4c0bd" stroke-width="5.5" stroke-linejoin="round"/>
<path d="M1233.7,773.8 Q1259.4,814.2 1241.1,889.0 Q1215.3,848.7 1233.7,773.8 Z" fill="#faeaea" stroke="#e4c0bd" stroke-width="5.5" stroke-linejoin="round"/>
<path d="M1243.5,874.5 Q1269.4,914.8 1250.9,989.7 Q1225.0,949.4 1243.5,874.5 Z" fill="#faeaea" stroke="#e4c0bd" stroke-width="5.5" stroke-linejoin="round"/>
<path d="M1254.7,973.7 Q1280.7,1014.1 1262.1,1088.9 Q1236.1,1048.6 1254.7,973.7 Z" fill="#faeaea" stroke="#e4c0bd" stroke-width="5.5" stroke-linejoin="round"/>
<ellipse cx="1112.1" cy="405.5" rx="5.0" ry="20.2" fill="#fcf4f4"/>
<path d="M1109.6,409.5 L1112.8,414.5 L1115.4,408.5 L1119.1,412.0 Q1119.1,421.0 1114.1,421.0 Q1107.6,420.0 1109.6,409.5 Z" fill="#8f6580"/>
<ellipse cx="1122.6" cy="503.9" rx="5.0" ry="20.2" fill="#fcf4f4"/>
<path d="M1120.1,507.9 L1123.3,512.9 L1125.9,506.9 L1129.6,510.4 Q1129.6,519.4 1124.6,519.4 Q1118.1,518.4 1120.1,507.9 Z" fill="#8f6580"/>
<ellipse cx="1130.3" cy="599.6" rx="5.1" ry="20.2" fill="#fcf4f4"/>
<path d="M1127.8,603.6 L1131.0,608.6 L1133.6,602.6 L1137.3,606.1 Q1137.3,615.1 1132.3,615.1 Q1125.8,614.1 1127.8,603.6 Z" fill="#8f6580"/>
<ellipse cx="1143.9" cy="690.2" rx="5.1" ry="20.2" fill="#fcf4f4"/>
<path d="M1141.4,694.2 L1144.6,699.2 L1147.2,693.2 L1150.9,696.7 Q1150.9,705.7 1145.9,705.7 Q1139.4,704.7 1141.4,694.2 Z" fill="#8f6580"/>
<ellipse cx="1154.5" cy="788.4" rx="5.1" ry="20.2" fill="#fcf4f4"/>
<path d="M1152.0,792.4 L1155.2,797.4 L1157.8,791.4 L1161.5,794.9 Q1161.5,803.9 1156.5,803.9 Q1150.0,802.9 1152.0,792.4 Z" fill="#8f6580"/>
<ellipse cx="1162.6" cy="877.9" rx="5.2" ry="20.2" fill="#fcf4f4"/>
<path d="M1160.1,881.9 L1163.3,886.9 L1165.9,880.9 L1169.6,884.4 Q1169.6,893.4 1164.6,893.4 Q1158.1,892.4 1160.1,881.9 Z" fill="#8f6580"/>
<ellipse cx="1173.6" cy="975.5" rx="5.2" ry="20.2" fill="#fcf4f4"/>
<path d="M1171.1,979.5 L1174.3,984.5 L1176.9,978.5 L1180.6,982.0 Q1180.6,991.0 1175.6,991.0 Q1169.1,990.0 1171.1,979.5 Z" fill="#8f6580"/>
<ellipse cx="1139.6" cy="443.9" rx="5.0" ry="20.2" fill="#fcf4f4"/>
<path d="M1137.1,447.9 L1140.3,452.9 L1142.9,446.9 L1146.6,450.4 Q1146.6,459.4 1141.6,459.4 Q1135.1,458.4 1137.1,447.9 Z" fill="#8f6580"/>
<ellipse cx="1153.5" cy="543.1" rx="5.1" ry="20.2" fill="#fcf4f4"/>
<path d="M1151.0,547.1 L1154.2,552.1 L1156.8,546.1 L1160.5,549.6 Q1160.5,558.6 1155.5,558.6 Q1149.0,557.6 1151.0,547.1 Z" fill="#8f6580"/>
<ellipse cx="1161.8" cy="645.0" rx="5.1" ry="20.2" fill="#fcf4f4"/>
<path d="M1159.3,649.0 L1162.5,654.0 L1165.1,648.0 L1168.8,651.5 Q1168.8,660.5 1163.8,660.5 Q1157.3,659.5 1159.3,649.0 Z" fill="#8f6580"/>
<ellipse cx="1172.4" cy="741.3" rx="5.1" ry="20.2" fill="#fcf4f4"/>
<path d="M1169.9,745.3 L1173.1,750.3 L1175.7,744.3 L1179.4,747.8 Q1179.4,756.8 1174.4,756.8 Q1167.9,755.8 1169.9,745.3 Z" fill="#8f6580"/>
<ellipse cx="1182.8" cy="835.2" rx="5.1" ry="20.2" fill="#fcf4f4"/>
<path d="M1180.3,839.2 L1183.5,844.2 L1186.1,838.2 L1189.8,841.7 Q1189.8,850.7 1184.8,850.7 Q1178.3,849.7 1180.3,839.2 Z" fill="#8f6580"/>
<ellipse cx="1195.6" cy="923.8" rx="5.2" ry="20.2" fill="#fcf4f4"/>
<path d="M1193.1,927.8 L1196.3,932.8 L1198.9,926.8 L1202.6,930.3 Q1202.6,939.3 1197.6,939.3 Q1191.1,938.3 1193.1,927.8 Z" fill="#8f6580"/>
<ellipse cx="1204.0" cy="1022.3" rx="5.2" ry="20.2" fill="#fcf4f4"/>
<path d="M1201.5,1026.3 L1204.7,1031.3 L1207.3,1025.3 L1211.0,1028.8 Q1211.0,1037.8 1206.0,1037.8 Q1199.5,1036.8 1201.5,1026.3 Z" fill="#8f6580"/>
<ellipse cx="1162.1" cy="412.8" rx="5.0" ry="20.2" fill="#fcf4f4"/>
<path d="M1159.6,416.8 L1162.8,421.8 L1165.4,415.8 L1169.1,419.3 Q1169.1,428.3 1164.1,428.3 Q1157.6,427.3 1159.6,416.8 Z" fill="#8f6580"/>
<ellipse cx="1174.0" cy="509.9" rx="5.1" ry="20.2" fill="#fcf4f4"/>
<path d="M1171.5,513.9 L1174.7,518.9 L1177.3,512.9 L1181.0,516.4 Q1181.0,525.4 1176.0,525.4 Q1169.5,524.4 1171.5,513.9 Z" fill="#8f6580"/>
<ellipse cx="1183.1" cy="602.5" rx="5.1" ry="20.2" fill="#fcf4f4"/>
<path d="M1180.6,606.5 L1183.8,611.5 L1186.4,605.5 L1190.1,609.0 Q1190.1,618.0 1185.1,618.0 Q1178.6,617.0 1180.6,606.5 Z" fill="#8f6580"/>
<ellipse cx="1196.3" cy="701.6" rx="5.1" ry="20.2" fill="#fcf4f4"/>
<path d="M1193.8,705.6 L1197.0,710.6 L1199.6,704.6 L1203.3,708.1 Q1203.3,717.1 1198.3,717.1 Q1191.8,716.1 1193.8,705.6 Z" fill="#8f6580"/>
<ellipse cx="1207.9" cy="797.9" rx="5.1" ry="20.2" fill="#fcf4f4"/>
<path d="M1205.4,801.9 L1208.6,806.9 L1211.2,800.9 L1214.9,804.4 Q1214.9,813.4 1209.9,813.4 Q1203.4,812.4 1205.4,801.9 Z" fill="#8f6580"/>
<ellipse cx="1215.7" cy="885.9" rx="5.2" ry="20.2" fill="#fcf4f4"/>
<path d="M1213.2,889.9 L1216.4,894.9 L1219.0,888.9 L1222.7,892.4 Q1222.7,901.4 1217.7,901.4 Q1211.2,900.4 1213.2,889.9 Z" fill="#8f6580"/>
<ellipse cx="1225.5" cy="980.3" rx="5.2" ry="20.2" fill="#fcf4f4"/>
<path d="M1223.0,984.3 L1226.2,989.3 L1228.8,983.3 L1232.5,986.8 Q1232.5,995.8 1227.5,995.8 Q1221.0,994.8 1223.0,984.3 Z" fill="#8f6580"/>
<ellipse cx="1192.0" cy="439.3" rx="5.0" ry="20.2" fill="#fcf4f4"/>
<path d="M1189.5,443.3 L1192.7,448.3 L1195.3,442.3 L1199.0,445.8 Q1199.0,454.8 1194.0,454.8 Q1187.5,453.8 1189.5,443.3 Z" fill="#8f6580"/>
<ellipse cx="1202.8" cy="531.7" rx="5.1" ry="20.2" fill="#fcf4f4"/>
<path d="M1200.3,535.7 L1203.5,540.7 L1206.1,534.7 L1209.8,538.2 Q1209.8,547.2 1204.8,547.2 Q1198.3,546.2 1200.3,535.7 Z" fill="#8f6580"/>
<ellipse cx="1212.8" cy="631.7" rx="5.1" ry="20.2" fill="#fcf4f4"/>
<path d="M1210.3,635.7 L1213.5,640.7 L1216.1,634.7 L1219.8,638.2 Q1219.8,647.2 1214.8,647.2 Q1208.3,646.2 1210.3,635.7 Z" fill="#8f6580"/>
<ellipse cx="1225.1" cy="733.5" rx="5.1" ry="20.2" fill="#fcf4f4"/>
<path d="M1222.6,737.5 L1225.8,742.5 L1228.4,736.5 L1232.1,740.0 Q1232.1,749.0 1227.1,749.0 Q1220.6,748.0 1222.6,737.5 Z" fill="#8f6580"/>
<ellipse cx="1235.4" cy="823.4" rx="5.1" ry="20.2" fill="#fcf4f4"/>
<path d="M1232.9,827.4 L1236.1,832.4 L1238.7,826.4 L1242.4,829.9 Q1242.4,838.9 1237.4,838.9 Q1230.9,837.9 1232.9,827.4 Z" fill="#8f6580"/>
<ellipse cx="1245.2" cy="924.1" rx="5.2" ry="20.2" fill="#fcf4f4"/>
<path d="M1242.7,928.1 L1245.9,933.1 L1248.5,927.1 L1252.2,930.6 Q1252.2,939.6 1247.2,939.6 Q1240.7,938.6 1242.7,928.1 Z" fill="#8f6580"/>
<ellipse cx="1256.4" cy="1023.3" rx="5.2" ry="20.2" fill="#fcf4f4"/>
<path d="M1253.9,1027.3 L1257.1,1032.3 L1259.7,1026.3 L1263.4,1029.8 Q1263.4,1038.8 1258.4,1038.8 Q1251.9,1037.8 1253.9,1027.3 Z" fill="#8f6580"/>
<polygon points="1209.6,504.6 1236,504.6 1285,835 1250,835" fill="#f6e083"/>
<path d="M1232,504.6 L1264,504.6 Q1283,670 1321,835 L1281,835 Q1254,670 1232,504.6 Z" fill="#fcf3f3"/>
<path d="M1236,500 L1256,500 L1261.8,554 L1241.8,554 Z" fill="#b3719b" stroke="#b3719b" stroke-width="7" stroke-linejoin="round"/>
<path d="M1236,500 L1256,500 L1261.8,554 L1241.8,554 Z" fill="none" stroke="#8e4f76" stroke-width="1.6" stroke-linejoin="round" opacity="0.5"/>
<ellipse cx="1248.9" cy="525.0" rx="7.8" ry="20.9" fill="#cf9bba"/>
<circle cx="1246.9" cy="519.0" r="2.6" fill="#f4e4ee"/><circle cx="1243.9" cy="523.0" r="1.6" fill="#f4e4ee"/>
<path d="M1248,562 L1267,562 L1275.1,639 L1256.1,639 Z" fill="#b3719b" stroke="#b3719b" stroke-width="7" stroke-linejoin="round"/>
<path d="M1248,562 L1267,562 L1275.1,639 L1256.1,639 Z" fill="none" stroke="#8e4f76" stroke-width="1.6" stroke-linejoin="round" opacity="0.5"/>
<ellipse cx="1261.5" cy="598.5" rx="7.5" ry="29.2" fill="#cf9bba"/>
<circle cx="1259.5" cy="592.5" r="2.6" fill="#f4e4ee"/><circle cx="1256.5" cy="596.5" r="1.6" fill="#f4e4ee"/>
<path d="M1260,647 L1277,647 L1284.5,718 L1267.5,718 Z" fill="#b3719b" stroke="#b3719b" stroke-width="7" stroke-linejoin="round"/>
<path d="M1260,647 L1277,647 L1284.5,718 L1267.5,718 Z" fill="none" stroke="#8e4f76" stroke-width="1.6" stroke-linejoin="round" opacity="0.5"/>
<ellipse cx="1272.2" cy="680.5" rx="6.9" ry="27.0" fill="#cf9bba"/>
<circle cx="1270.2" cy="674.5" r="2.6" fill="#f4e4ee"/><circle cx="1267.2" cy="678.5" r="1.6" fill="#f4e4ee"/>
<path d="M1267,726 L1285,726 L1292.5,797 L1274.5,797 Z" fill="#b3719b" stroke="#b3719b" stroke-width="7" stroke-linejoin="round"/>
<path d="M1267,726 L1285,726 L1292.5,797 L1274.5,797 Z" fill="none" stroke="#8e4f76" stroke-width="1.6" stroke-linejoin="round" opacity="0.5"/>
<ellipse cx="1279.8" cy="759.5" rx="7.2" ry="27.0" fill="#cf9bba"/>
<circle cx="1277.8" cy="753.5" r="2.6" fill="#f4e4ee"/><circle cx="1274.8" cy="757.5" r="1.6" fill="#f4e4ee"/>
<path d="M1282,805 L1304,805 L1308.7,848 L1286.7,848 Z" fill="#b3719b" stroke="#b3719b" stroke-width="7" stroke-linejoin="round"/>
<path d="M1282,805 L1304,805 L1308.7,848 L1286.7,848 Z" fill="none" stroke="#8e4f76" stroke-width="1.6" stroke-linejoin="round" opacity="0.5"/>
<ellipse cx="1295.3" cy="824.5" rx="8.4" ry="16.9" fill="#cf9bba"/>
<circle cx="1293.3" cy="818.5" r="2.6" fill="#f4e4ee"/><circle cx="1290.3" cy="822.5" r="1.6" fill="#f4e4ee"/>
<path d="M1263,504.6 L1380,504.6 L1380,835 L1322,835 Q1284,670 1263,504.6 Z" fill="#e8693f"/>
<ellipse cx="1290" cy="517" rx="20" ry="9" transform="rotate(0 1290 517)" fill="#c8181c"/>
<ellipse cx="1330" cy="560" rx="18" ry="26" transform="rotate(-20 1330 560)" fill="#c8181c"/>
<ellipse cx="1318" cy="622" rx="20" ry="14" transform="rotate(0 1318 622)" fill="#c8181c"/>
<ellipse cx="1330" cy="708" rx="12" ry="12" transform="rotate(0 1330 708)" fill="#c8181c"/>
<ellipse cx="1345" cy="760" rx="27" ry="27" transform="rotate(0 1345 760)" fill="#c8181c"/>
<ellipse cx="1366" cy="535" rx="10" ry="26" transform="rotate(0 1366 535)" fill="#c8181c"/>
<ellipse cx="1368" cy="830" rx="22" ry="12" transform="rotate(0 1368 830)" fill="#c8181c"/>
<ellipse cx="1305" cy="565" rx="8" ry="26" transform="rotate(-25 1305 565)" fill="#c8181c"/>
<path d="M1267.5,505 Q1288,670 1326,835" fill="none" stroke="#f19474" stroke-width="5"/>
<path d="M1345,805 L1362,800 L1350,815 Z" fill="#fbd6c8"/><path d="M1335,521 Q1350,515 1360,530 Q1348,524 1335,521 Z" fill="#fbd6c8"/>
<g transform="translate(1284,503) rotate(0)"><ellipse rx="23" ry="19" fill="#ef9a80" stroke="#a3161a" stroke-width="3.4"/><ellipse cx="1.8" cy="1.2" rx="14.3" ry="12.2" fill="#e2705a"/><ellipse cx="0" cy="0" rx="15.4" ry="13.1" fill="none" stroke="#fde6da" stroke-width="2.2" stroke-dasharray="39.8 48.6" stroke-dashoffset="-17.7"/></g>
<g transform="translate(1310,545.4) rotate(-25)"><ellipse rx="19.5" ry="24.5" fill="#ef9a80" stroke="#a3161a" stroke-width="3.4"/><ellipse cx="1.8" cy="1.2" rx="12.1" ry="15.7" fill="#e2705a"/><ellipse cx="0" cy="0" rx="13.1" ry="16.9" fill="none" stroke="#fde6da" stroke-width="2.2" stroke-dasharray="41.7 50.9" stroke-dashoffset="-18.5"/></g>
<g transform="translate(1349,576) rotate(-20)"><ellipse rx="23.5" ry="29.5" fill="#ef9a80" stroke="#a3161a" stroke-width="3.4"/><ellipse cx="1.8" cy="1.2" rx="14.6" ry="18.9" fill="#e2705a"/><ellipse cx="0" cy="0" rx="15.7" ry="20.4" fill="none" stroke="#fde6da" stroke-width="2.2" stroke-dasharray="50.2 61.4" stroke-dashoffset="-22.3"/></g>
<g transform="translate(1314,596) rotate(25)"><ellipse rx="31" ry="26.5" fill="#ef9a80" stroke="#a3161a" stroke-width="3.4"/><ellipse cx="1.8" cy="1.2" rx="19.2" ry="17.0" fill="#e2705a"/><ellipse cx="0" cy="0" rx="20.8" ry="18.3" fill="none" stroke="#fde6da" stroke-width="2.2" stroke-dasharray="54.5 66.6" stroke-dashoffset="-24.2"/></g>
<g transform="translate(1324.7,651) rotate(30)"><ellipse rx="28.5" ry="26" fill="#ef9a80" stroke="#a3161a" stroke-width="3.4"/><ellipse cx="1.8" cy="1.2" rx="17.7" ry="16.6" fill="#e2705a"/><ellipse cx="0" cy="0" rx="19.1" ry="17.9" fill="none" stroke="#fde6da" stroke-width="2.2" stroke-dasharray="51.6 63.1" stroke-dashoffset="-22.9"/></g>
<g transform="translate(1334,717) rotate(0)"><ellipse rx="19" ry="19" fill="#ef9a80" stroke="#a3161a" stroke-width="3.4"/><ellipse cx="1.8" cy="1.2" rx="11.8" ry="12.2" fill="#e2705a"/><ellipse cx="0" cy="0" rx="12.7" ry="13.1" fill="none" stroke="#fde6da" stroke-width="2.2" stroke-dasharray="36.0 44.0" stroke-dashoffset="-16.0"/></g>
<g transform="translate(1348,747) rotate(-10)"><ellipse rx="25.5" ry="27" fill="#ef9a80" stroke="#a3161a" stroke-width="3.4"/><ellipse cx="1.8" cy="1.2" rx="15.8" ry="17.3" fill="#e2705a"/><ellipse cx="0" cy="0" rx="17.1" ry="18.6" fill="none" stroke="#fde6da" stroke-width="2.2" stroke-dasharray="49.7 60.8" stroke-dashoffset="-22.1"/></g>
<g transform="translate(1360,832) rotate(0)"><ellipse rx="21" ry="14" fill="#ef9a80" stroke="#a3161a" stroke-width="3.4"/><ellipse cx="1.8" cy="1.2" rx="13.0" ry="9.0" fill="#e2705a"/><ellipse cx="0" cy="0" rx="14.1" ry="9.7" fill="none" stroke="#fde6da" stroke-width="2.2" stroke-dasharray="33.2 40.5" stroke-dashoffset="-14.7"/></g>
<g transform="translate(1380,525) rotate(0)"><ellipse rx="9" ry="27" fill="#ef9a80" stroke="#a3161a" stroke-width="3.4"/><ellipse cx="1.8" cy="1.2" rx="5.6" ry="17.3" fill="#e2705a"/><ellipse cx="0" cy="0" rx="6.0" ry="18.6" fill="none" stroke="#fde6da" stroke-width="2.2" stroke-dasharray="34.1 41.7" stroke-dashoffset="-15.2"/></g>
</g>
<line x1="974.4" y1="505" x2="1024.7" y2="834" stroke="#0a0a0a" stroke-width="6.3" stroke-linecap="round"/></g></defs>
<rect width="2213" height="852" fill="#fdf2ef"/>
<line x1="38.1" y1="151.4" x2="62.7" y2="151.4" stroke="#efdf8e" stroke-width="9" stroke-linecap="round"/>
<line x1="98.8" y1="151.4" x2="124.69999999999999" y2="151.4" stroke="#efdf8e" stroke-width="9" stroke-linecap="round"/>
<line x1="160.5" y1="151.4" x2="186.5" y2="151.4" stroke="#efdf8e" stroke-width="9" stroke-linecap="round"/>
<line x1="21.4" y1="172.0" x2="21.4" y2="196.5" stroke="#efdf8e" stroke-width="9" stroke-linecap="round"/>
<line x1="21.4" y1="234.0" x2="21.4" y2="258.5" stroke="#efdf8e" stroke-width="9" stroke-linecap="round"/>
<line x1="21.4" y1="296.0" x2="21.4" y2="320.5" stroke="#efdf8e" stroke-width="9" stroke-linecap="round"/>
<line x1="45.5" y1="330" x2="70.5" y2="330" stroke="#efdf8e" stroke-width="9" stroke-linecap="round"/>
<line x1="107.5" y1="330" x2="132.5" y2="330" stroke="#efdf8e" stroke-width="9" stroke-linecap="round"/>
<line x1="169.5" y1="330" x2="194.5" y2="330" stroke="#efdf8e" stroke-width="9" stroke-linecap="round"/>
<line x1="211.8" y1="161.5" x2="211.8" y2="186.2" stroke="#efdf8e" stroke-width="9" stroke-linecap="round"/>
<line x1="211.8" y1="223.5" x2="211.8" y2="248.2" stroke="#efdf8e" stroke-width="9" stroke-linecap="round"/>
<line x1="211.8" y1="286.5" x2="211.8" y2="310.2" stroke="#efdf8e" stroke-width="9" stroke-linecap="round"/>
<use href="#sphere"/>
<polygon points="214.8,145 333,242 214.8,335" fill="url(#coneG)"/>
<circle cx="340.5" cy="243.5" r="19" fill="none" stroke="#1b4f87" stroke-width="5" stroke-dasharray="13 6.9" transform="rotate(-30 340.5 243.5)"/>
<circle cx="340.5" cy="242.3" r="7.8" fill="url(#dotG)"/><circle cx="343.5" cy="239.8" r="1.6" fill="#f8b080" opacity="0.9"/>
<circle cx="366" cy="209" r="7.8" fill="url(#dotG)"/><circle cx="369" cy="206.5" r="1.6" fill="#f8b080" opacity="0.9"/>
<circle cx="412" cy="198" r="7.8" fill="url(#dotG)"/><circle cx="415" cy="195.5" r="1.6" fill="#f8b080" opacity="0.9"/>
<circle cx="441.6" cy="210.8" r="7.8" fill="url(#dotG)"/><circle cx="444.6" cy="208.3" r="1.6" fill="#f8b080" opacity="0.9"/>
<circle cx="386" cy="226.3" r="7.8" fill="url(#dotG)"/><circle cx="389" cy="223.8" r="1.6" fill="#f8b080" opacity="0.9"/>
<circle cx="418" cy="226.3" r="7.8" fill="url(#dotG)"/><circle cx="421" cy="223.8" r="1.6" fill="#f8b080" opacity="0.9"/>
<circle cx="372.6" cy="251" r="7.8" fill="url(#dotG)"/><circle cx="375.6" cy="248.5" r="1.6" fill="#f8b080" opacity="0.9"/>
<circle cx="404.6" cy="253.4" r="7.8" fill="url(#dotG)"/><circle cx="407.6" cy="250.9" r="1.6" fill="#f8b080" opacity="0.9"/>
<circle cx="452.7" cy="243.5" r="7.8" fill="url(#dotG)"/><circle cx="455.7" cy="241.0" r="1.6" fill="#f8b080" opacity="0.9"/>
<rect x="560.5" y="234.5" width="45" height="15" fill="#eec3b9"/><rect x="575.5" y="219.5" width="15" height="45" fill="#eec3b9"/>
<rect x="1013.2" y="234.8" width="45" height="15" fill="#eec3b9"/><rect x="1028.2" y="219.8" width="15" height="45" fill="#eec3b9"/>
<g filter="url(#blur6)"><path d="M768.6,184.8 C782.7,185.2 834.6,185.6 853.1,186.9 C871.6,188.2 879.9,190.6 879.9,192.5 C879.9,194.4 870.2,196.2 853.1,198.2 C836.0,200.2 797.2,202.4 777.0,204.5 C756.8,206.6 741.4,208.6 732.0,210.8 C722.6,213.0 720.5,214.8 720.7,217.9 C720.9,221.0 723.1,226.4 733.4,229.2 C743.7,232.0 769.8,235.3 782.7,234.8 C795.6,234.3 801.4,229.4 810.8,226.3 C820.2,223.2 828.4,219.3 839.0,216.5 C849.6,213.7 860.1,210.1 874.2,209.4 C888.3,208.7 914.6,211.1 923.5,212.3 C932.4,213.5 931.2,214.4 927.7,216.5 C924.2,218.6 912.5,222.6 902.4,224.9 C892.3,227.2 882.5,227.6 867.2,230.6 C851.9,233.6 824.9,238.3 810.8,243.2 C796.7,248.1 790.9,256.3 782.7,260.1 C774.5,263.9 772.1,267.7 761.5,265.8 C750.9,263.9 732.0,256.0 719.3,248.9 C706.6,241.8 690.7,228.2 685.5,223.5 C680.3,218.8 676.8,217.2 688.3,220.7 C699.8,224.2 737.6,239.0 754.5,244.6 C771.4,250.2 775.6,250.5 789.7,254.5 C803.8,258.5 823.7,266.0 839.0,268.6 C854.3,271.2 867.2,272.4 881.3,270.0 C895.4,267.6 916.0,258.0 923.5,254.5 C931.0,251.0 933.3,252.4 926.3,248.9 C919.3,245.4 898.2,237.4 881.3,233.4 C864.4,229.4 849.1,231.0 824.9,224.9 C800.7,218.8 751.0,201.5 736.2,196.8 " fill="none" stroke="#fbf07e" stroke-width="34" stroke-linecap="round" stroke-linejoin="round" opacity="0.95"/></g>
<path d="M768.6,184.8 C782.7,185.2 834.6,185.6 853.1,186.9 C871.6,188.2 879.9,190.6 879.9,192.5 C879.9,194.4 870.2,196.2 853.1,198.2 C836.0,200.2 797.2,202.4 777.0,204.5 C756.8,206.6 741.4,208.6 732.0,210.8 C722.6,213.0 720.5,214.8 720.7,217.9 C720.9,221.0 723.1,226.4 733.4,229.2 C743.7,232.0 769.8,235.3 782.7,234.8 C795.6,234.3 801.4,229.4 810.8,226.3 C820.2,223.2 828.4,219.3 839.0,216.5 C849.6,213.7 860.1,210.1 874.2,209.4 C888.3,208.7 914.6,211.1 923.5,212.3 C932.4,213.5 931.2,214.4 927.7,216.5 C924.2,218.6 912.5,222.6 902.4,224.9 C892.3,227.2 882.5,227.6 867.2,230.6 C851.9,233.6 824.9,238.3 810.8,243.2 C796.7,248.1 790.9,256.3 782.7,260.1 C774.5,263.9 772.1,267.7 761.5,265.8 C750.9,263.9 732.0,256.0 719.3,248.9 C706.6,241.8 690.7,228.2 685.5,223.5 C680.3,218.8 676.8,217.2 688.3,220.7 C699.8,224.2 737.6,239.0 754.5,244.6 C771.4,250.2 775.6,250.5 789.7,254.5 C803.8,258.5 823.7,266.0 839.0,268.6 C854.3,271.2 867.2,272.4 881.3,270.0 C895.4,267.6 916.0,258.0 923.5,254.5 C931.0,251.0 933.3,252.4 926.3,248.9 C919.3,245.4 898.2,237.4 881.3,233.4 C864.4,229.4 849.1,231.0 824.9,224.9 C800.7,218.8 751.0,201.5 736.2,196.8 " fill="none" stroke="#fbd35b" stroke-width="8" stroke-linecap="butt" stroke-linejoin="round"/>
<g filter="url(#blur8)"><ellipse cx="1290" cy="226" rx="125" ry="44" fill="#c2f2e0" opacity="0.8"/><path d="M1188.6,184.5 C1193.0,185.5 1198.4,192.4 1215.0,190.5 C1231.6,188.6 1263.0,172.9 1288.0,173.0 C1313.0,173.1 1347.7,189.6 1365.0,191.0 C1382.3,192.4 1387.5,183.1 1392.0,181.5  M1219.4,217.6 C1223.7,216.0 1228.6,210.7 1245.0,208.0 C1261.4,205.3 1292.3,199.5 1318.0,201.6 C1343.7,203.7 1381.6,218.8 1399.3,220.5 C1417.0,222.2 1419.9,213.0 1424.0,211.5  M1146.0,236.0 C1151.3,234.3 1161.3,224.8 1178.0,226.0 C1194.7,227.2 1222.3,243.0 1246.0,243.0 C1269.7,243.0 1302.8,227.5 1320.0,226.0 C1337.2,224.5 1344.2,232.7 1349.0,234.0  M1210.0,269.0 C1215.0,267.2 1223.7,256.7 1240.0,258.0 C1256.3,259.3 1283.8,276.5 1308.0,277.0 C1332.2,277.5 1367.7,262.5 1385.0,261.0 C1402.3,259.5 1407.5,266.8 1412.0,268.0 " fill="none" stroke="#9ef0d4" stroke-width="38" stroke-linecap="round" opacity="0.95"/></g>
<path d="M1188.6,184.5 C1193.0,185.5 1198.4,192.4 1215.0,190.5 C1231.6,188.6 1263.0,172.9 1288.0,173.0 C1313.0,173.1 1347.7,189.6 1365.0,191.0 C1382.3,192.4 1387.5,183.1 1392.0,181.5  M1219.4,217.6 C1223.7,216.0 1228.6,210.7 1245.0,208.0 C1261.4,205.3 1292.3,199.5 1318.0,201.6 C1343.7,203.7 1381.6,218.8 1399.3,220.5 C1417.0,222.2 1419.9,213.0 1424.0,211.5  M1146.0,236.0 C1151.3,234.3 1161.3,224.8 1178.0,226.0 C1194.7,227.2 1222.3,243.0 1246.0,243.0 C1269.7,243.0 1302.8,227.5 1320.0,226.0 C1337.2,224.5 1344.2,232.7 1349.0,234.0  M1210.0,269.0 C1215.0,267.2 1223.7,256.7 1240.0,258.0 C1256.3,259.3 1283.8,276.5 1308.0,277.0 C1332.2,277.5 1367.7,262.5 1385.0,261.0 C1402.3,259.5 1407.5,266.8 1412.0,268.0 " fill="none" stroke="#4ed0c6" stroke-width="11.5"/>
<path d="M1503.8,212.2 L1576,212.2 L1576,201 L1598.3,223.9 L1576,247 L1576,235.1 L1503.8,235.1 Z" fill="none" stroke="#e27c3c" stroke-width="5.5" stroke-linejoin="miter"/>
<clipPath id="boxclip"><rect x="1675" y="121" width="370" height="226" rx="24"/></clipPath>
<g clip-path="url(#boxclip)"><path d="M1691.4,165.8 C1698.0,166.8 1719.6,172.6 1731.0,171.6 C1742.4,170.6 1750.2,163.6 1760.0,160.0 C1769.8,156.4 1785.0,151.7 1790.0,150.0 " fill="none" stroke="#ecd36e" stroke-width="3.2"/>
<path d="M1735.0,150.0 C1739.2,149.3 1750.8,147.0 1760.0,146.0 C1769.2,145.0 1785.0,144.3 1790.0,144.0 " fill="none" stroke="#ecd36e" stroke-width="3.2"/>
<path d="M1694.3,201.0 C1693.9,204.2 1692.3,214.3 1692.0,220.0 C1691.7,225.7 1692.2,229.5 1692.5,235.0 C1692.8,240.5 1692.5,247.9 1694.0,252.9 C1695.5,257.9 1697.5,263.7 1701.6,265.0 C1705.7,266.3 1713.1,264.3 1718.4,260.5 C1723.7,256.7 1730.3,248.1 1733.6,242.2 C1736.9,236.3 1736.3,231.2 1738.2,225.0 C1740.1,218.8 1743.9,208.3 1745.0,205.0 " fill="none" stroke="#ecd36e" stroke-width="3.2"/>
<path d="M1715.3,280.3 C1713.3,284.6 1703.8,299.4 1703.1,306.3 C1702.3,313.2 1701.9,319.5 1710.8,321.5 C1719.7,323.5 1746.8,322.3 1756.5,318.5 C1766.2,314.7 1766.7,304.5 1768.7,298.6 C1770.7,292.8 1771.8,289.5 1768.7,283.4 C1765.7,277.3 1756.2,266.8 1750.4,262.0 C1744.6,257.2 1739.3,254.4 1733.6,254.4 C1727.9,254.4 1718.9,260.7 1716.0,262.0 " fill="none" stroke="#ecd36e" stroke-width="3.2"/>
<path d="M1716.4,198.0 C1720.1,200.4 1732.0,207.7 1738.4,212.7 C1744.8,217.7 1751.0,224.8 1755.0,228.0 C1759.0,231.2 1757.3,230.7 1762.6,232.0 C1767.9,233.3 1781.2,236.4 1787.0,236.1 C1792.8,235.8 1794.5,233.5 1797.7,230.0 C1800.9,226.5 1804.8,220.0 1806.0,215.0 C1807.2,210.0 1805.2,202.5 1805.0,200.0 " fill="none" stroke="#ecd36e" stroke-width="3.2"/>
<path d="M1771.8,266.6 C1774.8,265.3 1783.7,258.0 1790.1,259.0 C1796.5,260.0 1805.7,267.5 1810.0,272.7 C1814.3,277.9 1816.0,284.6 1816.0,290.0 C1816.0,295.4 1811.0,302.5 1810.0,305.0 " fill="none" stroke="#ecd36e" stroke-width="3.2"/>
<path d="M1781.0,294.0 C1784.5,297.6 1794.9,310.8 1802.3,315.4 C1809.7,320.0 1817.2,321.1 1825.2,321.5 C1833.2,321.9 1845.9,318.6 1850.0,318.0 " fill="none" stroke="#ecd36e" stroke-width="3.2"/>
<path d="M1826.4,154.0 C1828.8,150.6 1836.2,137.4 1841.0,133.5 C1845.8,129.6 1847.8,131.2 1855.0,130.5 C1862.2,129.8 1873.3,127.5 1884.3,129.0 C1895.3,130.5 1911.2,135.9 1921.0,139.3 C1930.8,142.7 1935.7,144.9 1943.0,149.6 C1950.3,154.2 1958.9,162.1 1965.0,167.2 C1971.1,172.3 1973.6,175.3 1979.7,180.4 C1985.8,185.5 1994.4,191.6 2001.7,198.0 C2009.0,204.4 2017.3,212.9 2023.7,218.6 C2030.1,224.3 2037.3,229.8 2040.0,232.0 " fill="none" stroke="#ecd36e" stroke-width="3.2"/>
<path d="M1855.0,143.7 C1858.7,147.9 1869.7,160.4 1877.0,168.7 C1884.3,177.0 1892.4,188.2 1899.0,193.6 C1905.6,199.0 1910.6,199.1 1916.6,201.0 C1922.6,202.9 1931.9,204.3 1935.0,205.0 " fill="none" stroke="#ecd36e" stroke-width="3.2"/>
<path d="M1957.7,176.0 C1961.4,171.1 1972.4,153.8 1979.7,146.7 C1987.0,139.6 1995.6,134.7 2001.7,133.5 C2007.8,132.3 2013.2,133.4 2016.4,139.3 C2019.6,145.2 2019.3,158.9 2020.8,168.7 C2022.3,178.5 2024.7,186.9 2025.2,198.0 C2025.7,209.1 2025.4,226.3 2023.7,235.0 C2022.0,243.7 2016.5,247.5 2015.0,250.0 " fill="none" stroke="#ecd36e" stroke-width="3.2"/>
<path d="M1840.4,242.2 C1842.8,243.0 1850.0,244.2 1855.0,246.8 C1860.0,249.4 1864.0,258.8 1870.3,257.5 C1876.6,256.2 1888.0,243.8 1893.1,239.2 C1898.2,234.6 1899.5,231.5 1900.8,230.0 " fill="none" stroke="#ecd36e" stroke-width="3.2"/>
<path d="M1893.1,242.2 C1894.4,245.2 1897.0,255.4 1900.8,260.5 C1904.6,265.6 1908.4,265.1 1916.0,272.7 C1923.6,280.3 1936.3,298.2 1946.5,306.3 C1956.7,314.4 1966.8,319.0 1977.0,321.5 C1987.2,324.0 1998.7,320.0 2007.6,321.5 C2016.5,323.0 2026.6,329.2 2030.4,330.7 " fill="none" stroke="#ecd36e" stroke-width="3.2"/>
<path d="M1980.1,257.5 C1982.1,260.6 1987.7,268.2 1992.3,275.8 C1996.9,283.4 2003.8,295.8 2007.6,303.2 C2011.4,310.6 2013.8,317.2 2015.0,320.0 " fill="none" stroke="#ecd36e" stroke-width="3.2"/>
<path d="M1996.9,260.5 C1998.2,263.1 2002.0,270.9 2004.5,275.8 C2007.0,280.7 2010.8,287.6 2012.0,290.0 " fill="none" stroke="#ecd36e" stroke-width="3.2"/>
<path d="M1660.0,140.5 C1663.0,140.2 1667.3,140.2 1678.0,138.5 C1688.7,136.8 1708.3,132.2 1724.0,130.5 C1739.7,128.8 1756.0,128.2 1772.0,128.5 C1788.0,128.8 1805.7,130.8 1820.0,132.5 C1834.3,134.2 1843.8,136.8 1858.0,138.5 C1872.2,140.2 1889.7,144.0 1905.0,142.5 C1920.3,141.0 1933.7,131.3 1950.0,129.5 C1966.3,127.7 1987.5,130.0 2003.0,131.5 C2018.5,133.0 2033.5,137.0 2043.0,138.5 C2052.5,140.0 2057.2,140.2 2060.0,140.5 " fill="none" stroke="#4ecfc5" stroke-width="5.5"/>
<path d="M1660.0,164.0 C1663.0,163.7 1667.3,163.7 1678.0,162.0 C1688.7,160.3 1708.3,155.7 1724.0,154.0 C1739.7,152.3 1756.0,151.7 1772.0,152.0 C1788.0,152.3 1805.7,154.3 1820.0,156.0 C1834.3,157.7 1843.8,160.3 1858.0,162.0 C1872.2,163.7 1889.7,167.5 1905.0,166.0 C1920.3,164.5 1933.7,154.8 1950.0,153.0 C1966.3,151.2 1987.5,153.5 2003.0,155.0 C2018.5,156.5 2033.5,160.5 2043.0,162.0 C2052.5,163.5 2057.2,163.7 2060.0,164.0 " fill="none" stroke="#4ecfc5" stroke-width="5.5"/>
<path d="M1660.0,200.0 C1663.0,199.7 1667.3,199.7 1678.0,198.0 C1688.7,196.3 1708.3,191.7 1724.0,190.0 C1739.7,188.3 1756.0,187.7 1772.0,188.0 C1788.0,188.3 1805.7,190.3 1820.0,192.0 C1834.3,193.7 1843.8,196.3 1858.0,198.0 C1872.2,199.7 1889.7,203.5 1905.0,202.0 C1920.3,200.5 1933.7,190.8 1950.0,189.0 C1966.3,187.2 1987.5,189.5 2003.0,191.0 C2018.5,192.5 2033.5,196.5 2043.0,198.0 C2052.5,199.5 2057.2,199.7 2060.0,200.0 " fill="none" stroke="#4ecfc5" stroke-width="5.5"/>
<path d="M1660.0,230.0 C1663.0,229.7 1667.3,229.7 1678.0,228.0 C1688.7,226.3 1708.3,221.7 1724.0,220.0 C1739.7,218.3 1756.0,217.7 1772.0,218.0 C1788.0,218.3 1805.7,220.3 1820.0,222.0 C1834.3,223.7 1843.8,226.3 1858.0,228.0 C1872.2,229.7 1889.7,233.5 1905.0,232.0 C1920.3,230.5 1933.7,220.8 1950.0,219.0 C1966.3,217.2 1987.5,219.5 2003.0,221.0 C2018.5,222.5 2033.5,226.5 2043.0,228.0 C2052.5,229.5 2057.2,229.7 2060.0,230.0 " fill="none" stroke="#4ecfc5" stroke-width="5.5"/>
<path d="M1660.0,262.0 C1663.0,261.7 1667.3,261.7 1678.0,260.0 C1688.7,258.3 1708.3,253.7 1724.0,252.0 C1739.7,250.3 1756.0,249.7 1772.0,250.0 C1788.0,250.3 1805.7,252.3 1820.0,254.0 C1834.3,255.7 1843.8,258.3 1858.0,260.0 C1872.2,261.7 1889.7,265.5 1905.0,264.0 C1920.3,262.5 1933.7,252.8 1950.0,251.0 C1966.3,249.2 1987.5,251.5 2003.0,253.0 C2018.5,254.5 2033.5,258.5 2043.0,260.0 C2052.5,261.5 2057.2,261.7 2060.0,262.0 " fill="none" stroke="#4ecfc5" stroke-width="5.5"/>
<path d="M1660.0,294.0 C1663.0,293.7 1667.3,293.7 1678.0,292.0 C1688.7,290.3 1708.3,285.7 1724.0,284.0 C1739.7,282.3 1756.0,281.7 1772.0,282.0 C1788.0,282.3 1805.7,284.3 1820.0,286.0 C1834.3,287.7 1843.8,290.3 1858.0,292.0 C1872.2,293.7 1889.7,297.5 1905.0,296.0 C1920.3,294.5 1933.7,284.8 1950.0,283.0 C1966.3,281.2 1987.5,283.5 2003.0,285.0 C2018.5,286.5 2033.5,290.5 2043.0,292.0 C2052.5,293.5 2057.2,293.7 2060.0,294.0 " fill="none" stroke="#4ecfc5" stroke-width="5.5"/>
<path d="M1660.0,323.0 C1663.0,322.7 1667.3,322.7 1678.0,321.0 C1688.7,319.3 1708.3,314.7 1724.0,313.0 C1739.7,311.3 1756.0,310.7 1772.0,311.0 C1788.0,311.3 1805.7,313.3 1820.0,315.0 C1834.3,316.7 1843.8,319.3 1858.0,321.0 C1872.2,322.7 1889.7,326.5 1905.0,325.0 C1920.3,323.5 1933.7,313.8 1950.0,312.0 C1966.3,310.2 1987.5,312.5 2003.0,314.0 C2018.5,315.5 2033.5,319.5 2043.0,321.0 C2052.5,322.5 2057.2,322.7 2060.0,323.0 " fill="none" stroke="#4ecfc5" stroke-width="5.5"/>
<path d="M1709.3,105.0 C1708.6,107.8 1707.3,113.8 1705.3,122.0 C1703.3,130.2 1697.6,143.5 1697.3,154.0 C1697.0,164.5 1700.5,172.7 1703.3,185.0 C1706.1,197.3 1713.6,215.2 1714.3,228.0 C1715.0,240.8 1710.0,250.0 1707.3,262.0 C1704.6,274.0 1699.8,290.7 1698.3,300.0 C1696.8,309.3 1697.0,310.8 1698.3,318.0 C1699.6,325.2 1704.3,336.0 1706.3,343.0 C1708.3,350.0 1709.6,357.2 1710.3,360.0 " fill="none" stroke="#4ecfc5" stroke-width="5.5"/>
<path d="M1744.5,105.0 C1743.8,107.8 1742.5,113.8 1740.5,122.0 C1738.5,130.2 1732.8,143.5 1732.5,154.0 C1732.2,164.5 1735.7,172.7 1738.5,185.0 C1741.3,197.3 1748.8,215.2 1749.5,228.0 C1750.2,240.8 1745.2,250.0 1742.5,262.0 C1739.8,274.0 1735.0,290.7 1733.5,300.0 C1732.0,309.3 1732.2,310.8 1733.5,318.0 C1734.8,325.2 1739.5,336.0 1741.5,343.0 C1743.5,350.0 1744.8,357.2 1745.5,360.0 " fill="none" stroke="#4ecfc5" stroke-width="5.5"/>
<path d="M1784.0,105.0 C1783.3,107.8 1782.0,113.8 1780.0,122.0 C1778.0,130.2 1772.3,143.5 1772.0,154.0 C1771.7,164.5 1775.2,172.7 1778.0,185.0 C1780.8,197.3 1788.3,215.2 1789.0,228.0 C1789.7,240.8 1784.7,250.0 1782.0,262.0 C1779.3,274.0 1774.5,290.7 1773.0,300.0 C1771.5,309.3 1771.7,310.8 1773.0,318.0 C1774.3,325.2 1779.0,336.0 1781.0,343.0 C1783.0,350.0 1784.3,357.2 1785.0,360.0 " fill="none" stroke="#4ecfc5" stroke-width="5.5"/>
<path d="M1821.0,105.0 C1820.3,107.8 1819.0,113.8 1817.0,122.0 C1815.0,130.2 1809.3,143.5 1809.0,154.0 C1808.7,164.5 1812.2,172.7 1815.0,185.0 C1817.8,197.3 1825.3,215.2 1826.0,228.0 C1826.7,240.8 1821.7,250.0 1819.0,262.0 C1816.3,274.0 1811.5,290.7 1810.0,300.0 C1808.5,309.3 1808.7,310.8 1810.0,318.0 C1811.3,325.2 1816.0,336.0 1818.0,343.0 C1820.0,350.0 1821.3,357.2 1822.0,360.0 " fill="none" stroke="#4ecfc5" stroke-width="5.5"/>
<path d="M1851.6,105.0 C1850.9,107.8 1849.6,113.8 1847.6,122.0 C1845.6,130.2 1839.9,143.5 1839.6,154.0 C1839.3,164.5 1842.8,172.7 1845.6,185.0 C1848.4,197.3 1855.9,215.2 1856.6,228.0 C1857.3,240.8 1852.3,250.0 1849.6,262.0 C1846.9,274.0 1842.1,290.7 1840.6,300.0 C1839.1,309.3 1839.3,310.8 1840.6,318.0 C1841.9,325.2 1846.6,336.0 1848.6,343.0 C1850.6,350.0 1851.9,357.2 1852.6,360.0 " fill="none" stroke="#4ecfc5" stroke-width="5.5"/>
<path d="M1887.5,105.0 C1886.8,107.8 1885.5,113.8 1883.5,122.0 C1881.5,130.2 1875.8,143.5 1875.5,154.0 C1875.2,164.5 1878.7,172.7 1881.5,185.0 C1884.3,197.3 1891.8,215.2 1892.5,228.0 C1893.2,240.8 1888.2,250.0 1885.5,262.0 C1882.8,274.0 1878.0,290.7 1876.5,300.0 C1875.0,309.3 1875.2,310.8 1876.5,318.0 C1877.8,325.2 1882.5,336.0 1884.5,343.0 C1886.5,350.0 1887.8,357.2 1888.5,360.0 " fill="none" stroke="#4ecfc5" stroke-width="5.5"/>
<path d="M1919.8,105.0 C1919.1,107.8 1917.8,113.8 1915.8,122.0 C1913.8,130.2 1908.1,143.5 1907.8,154.0 C1907.5,164.5 1911.0,172.7 1913.8,185.0 C1916.6,197.3 1924.1,215.2 1924.8,228.0 C1925.5,240.8 1920.5,250.0 1917.8,262.0 C1915.1,274.0 1910.3,290.7 1908.8,300.0 C1907.3,309.3 1907.5,310.8 1908.8,318.0 C1910.1,325.2 1914.8,336.0 1916.8,343.0 C1918.8,350.0 1920.1,357.2 1920.8,360.0 " fill="none" stroke="#4ecfc5" stroke-width="5.5"/>
<path d="M1953.6,105.0 C1952.9,107.8 1951.6,113.8 1949.6,122.0 C1947.6,130.2 1941.9,143.5 1941.6,154.0 C1941.3,164.5 1944.8,172.7 1947.6,185.0 C1950.4,197.3 1957.9,215.2 1958.6,228.0 C1959.3,240.8 1954.3,250.0 1951.6,262.0 C1948.9,274.0 1944.1,290.7 1942.6,300.0 C1941.1,309.3 1941.3,310.8 1942.6,318.0 C1943.9,325.2 1948.6,336.0 1950.6,343.0 C1952.6,350.0 1953.9,357.2 1954.6,360.0 " fill="none" stroke="#4ecfc5" stroke-width="5.5"/>
<path d="M1984.4,105.0 C1983.7,107.8 1982.4,113.8 1980.4,122.0 C1978.4,130.2 1972.7,143.5 1972.4,154.0 C1972.1,164.5 1975.6,172.7 1978.4,185.0 C1981.2,197.3 1988.7,215.2 1989.4,228.0 C1990.1,240.8 1985.1,250.0 1982.4,262.0 C1979.7,274.0 1974.9,290.7 1973.4,300.0 C1971.9,309.3 1972.1,310.8 1973.4,318.0 C1974.7,325.2 1979.4,336.0 1981.4,343.0 C1983.4,350.0 1984.7,357.2 1985.4,360.0 " fill="none" stroke="#4ecfc5" stroke-width="5.5"/>
<path d="M2019.6,105.0 C2018.9,107.8 2017.6,113.8 2015.6,122.0 C2013.6,130.2 2007.9,143.5 2007.6,154.0 C2007.3,164.5 2010.8,172.7 2013.6,185.0 C2016.4,197.3 2023.9,215.2 2024.6,228.0 C2025.3,240.8 2020.3,250.0 2017.6,262.0 C2014.9,274.0 2010.1,290.7 2008.6,300.0 C2007.1,309.3 2007.3,310.8 2008.6,318.0 C2009.9,325.2 2014.6,336.0 2016.6,343.0 C2018.6,350.0 2019.9,357.2 2020.6,360.0 " fill="none" stroke="#4ecfc5" stroke-width="5.5"/></g>
<ellipse cx="1771" cy="190.5" rx="35.5" ry="34" fill="#e4571d" stroke="#3a2015" stroke-width="2"/><ellipse cx="1789.46" cy="177.58" rx="4.615" ry="3.74" fill="#f6a62a"/><ellipse cx="1790.525" cy="191.18" rx="7.1000000000000005" ry="5.78" fill="#f6a62a"/><circle cx="1794.43" cy="189.48" r="3.195" fill="#ffffff"/>
<ellipse cx="1964.3" cy="223.7" rx="35.5" ry="34" fill="#e4571d" stroke="#3a2015" stroke-width="2"/><ellipse cx="1982.76" cy="210.78" rx="4.615" ry="3.74" fill="#f6a62a"/><ellipse cx="1983.825" cy="224.38" rx="7.1000000000000005" ry="5.78" fill="#f6a62a"/><circle cx="1987.73" cy="222.67999999999998" r="3.195" fill="#ffffff"/>
<ellipse cx="1861.6" cy="307.7" rx="35.5" ry="34" fill="#e4571d" stroke="#3a2015" stroke-width="2"/><ellipse cx="1880.06" cy="294.78" rx="4.615" ry="3.74" fill="#f6a62a"/><ellipse cx="1881.125" cy="308.38" rx="7.1000000000000005" ry="5.78" fill="#f6a62a"/><circle cx="1885.03" cy="306.68" r="3.195" fill="#ffffff"/>
<rect x="1670.7" y="115.7" width="378" height="236.3" rx="30" fill="none" stroke="#e27c3c" stroke-width="8" stroke-dasharray="26 9.67" stroke-dashoffset="-2.4"/>
<line x1="28.5" y1="458.4" x2="51.1" y2="458.4" stroke="#efdf8e" stroke-width="9" stroke-linecap="round"/>
<line x1="91.5" y1="458.4" x2="114.0" y2="458.4" stroke="#efdf8e" stroke-width="9" stroke-linecap="round"/>
<line x1="152.1" y1="458.4" x2="174.5" y2="458.4" stroke="#efdf8e" stroke-width="9" stroke-linecap="round"/>
<line x1="17.9" y1="485.5" x2="17.9" y2="508.1" stroke="#efdf8e" stroke-width="9" stroke-linecap="round"/>
<line x1="17.9" y1="546.1" x2="17.9" y2="568.5" stroke="#efdf8e" stroke-width="9" stroke-linecap="round"/>
<line x1="17.9" y1="609.0" x2="17.9" y2="631.5" stroke="#efdf8e" stroke-width="9" stroke-linecap="round"/>
<line x1="17.9" y1="669.5" x2="17.9" y2="692.0" stroke="#efdf8e" stroke-width="9" stroke-linecap="round"/>
<line x1="17.9" y1="732.5" x2="17.9" y2="754.5" stroke="#efdf8e" stroke-width="9" stroke-linecap="round"/>
<line x1="17.9" y1="792.5" x2="17.9" y2="815.5" stroke="#efdf8e" stroke-width="9" stroke-linecap="round"/>
<line x1="203" y1="468.5" x2="203" y2="491.1" stroke="#efdf8e" stroke-width="9" stroke-linecap="round"/>
<line x1="203" y1="531.5" x2="203" y2="554.0" stroke="#efdf8e" stroke-width="9" stroke-linecap="round"/>
<line x1="203" y1="592.1" x2="203" y2="614.5" stroke="#efdf8e" stroke-width="9" stroke-linecap="round"/>
<line x1="203" y1="655.0" x2="203" y2="677.5" stroke="#efdf8e" stroke-width="9" stroke-linecap="round"/>
<line x1="203" y1="715.5" x2="203" y2="737.9" stroke="#efdf8e" stroke-width="9" stroke-linecap="round"/>
<line x1="203" y1="778.5" x2="203" y2="800.5" stroke="#efdf8e" stroke-width="9" stroke-linecap="round"/>
<line x1="45.5" y1="828.5" x2="68.1" y2="828.5" stroke="#efdf8e" stroke-width="9" stroke-linecap="round"/>
<line x1="106.1" y1="828.5" x2="128.5" y2="828.5" stroke="#efdf8e" stroke-width="9" stroke-linecap="round"/>
<line x1="169.0" y1="828.5" x2="191.5" y2="828.5" stroke="#efdf8e" stroke-width="9" stroke-linecap="round"/>
<ellipse cx="108.7" cy="490" rx="20" ry="18.3" fill="#e4561c" stroke="#7a3414" stroke-width="1.3"/><circle cx="119.6" cy="483.6" r="2.3" fill="#f6a040"/><circle cx="120.5" cy="491" r="3.2" fill="#f6a040"/><circle cx="122" cy="490" r="1.2" fill="#fff"/>
<path d="M99.6,576.0 C102.9,574.2 112.8,573.9 116.4,575.7 C120.0,577.5 119.4,581.6 121.0,587.0 C122.6,592.4 125.7,601.2 126.0,607.8 C126.3,614.4 125.1,623.0 123.0,626.8 C120.9,630.6 116.8,631.2 113.3,630.5 C109.8,629.8 104.8,626.6 101.7,622.5 C98.7,618.4 95.9,611.6 95.0,605.6 C94.1,599.6 95.6,591.5 96.4,586.6 C97.2,581.7 96.3,577.8 99.6,576.0 Z" fill="#9dc788" stroke="#4a3f16" stroke-width="3"/><circle cx="112.2" cy="608.8" r="7.5" fill="#8b4f94"/><ellipse cx="108.825" cy="605.425" rx="3.0" ry="2.25" fill="#ffffff" opacity="0.9"/>
<use href="#mol" transform="translate(-286.8,307.8) scale(0.6)"/>
<use href="#sphere" transform="translate(174.07,296.6) scale(1.005,1.025)"/>
<path d="M329.4,527 L417,550.4 L410.7,562 C470,580 505,588 545,594 A134,110 0 0,0 490,700 C466,660 430,622 395,588 L387.5,595.5 Z" fill="url(#blueArrG)"/>
<ellipse cx="622" cy="687" rx="131" ry="107" fill="none" stroke="#efdf8e" stroke-width="8" stroke-dasharray="24 12"/>
<use href="#mol"/>
<path d="M747,625 C790,650 830,670 885.5,675 L885.5,662 L970,689 L885.5,717.3 L885.5,704.4 C830,709 790,722 747,749 C765,710 765,665 747,625 Z" fill="url(#pinkArrG)"/>
<path d="M1481.7,626 C1530,652 1570,670 1621,674 L1621,662.7 L1704.3,689 L1621,716 L1621,703.6 C1570,708 1530,724 1481.7,753 C1505,715 1505,665 1481.7,626 Z" fill="url(#pinkArrG)"/>
<use href="#tissue"/>
<use href="#tissue" x="819.5"/>
<path d="M1230.8,583.2 C1234.9,580.1 1241.6,577.3 1245.0,579.0 C1248.4,580.7 1250.6,589.0 1251.3,593.5 C1252.0,598.0 1248.7,601.2 1249.0,606.0 C1249.3,610.8 1253.6,618.5 1253.3,622.2 C1253.0,625.9 1249.4,629.1 1247.0,628.4 C1244.6,627.7 1242.7,621.4 1239.0,618.0 C1235.3,614.6 1227.7,611.2 1224.6,607.8 C1221.5,604.4 1219.5,601.7 1220.5,597.6 C1221.5,593.5 1226.7,586.3 1230.8,583.2 Z" fill="#9dc788" stroke="#4a3f16" stroke-width="2.8"/><circle cx="1237.8" cy="600.9" r="6.3" fill="#8b4f94"/><ellipse cx="1234.965" cy="598.0649999999999" rx="2.52" ry="1.89" fill="#ffffff" opacity="0.9"/>
<path d="M1239.0,669.4 C1240.7,667.3 1246.5,665.6 1249.2,667.3 C1251.9,669.0 1254.0,674.2 1255.4,679.7 C1256.8,685.2 1257.8,695.1 1257.4,700.2 C1257.1,705.3 1255.7,709.0 1253.3,710.4 C1250.9,711.8 1245.7,711.5 1243.0,708.4 C1240.3,705.3 1237.7,696.8 1237.0,692.0 C1236.3,687.2 1238.7,683.5 1239.0,679.7 C1239.3,675.9 1237.3,671.5 1239.0,669.4 Z" fill="#9dc788" stroke="#4a3f16" stroke-width="2.8"/><circle cx="1248.4" cy="692" r="5.8" fill="#8b4f94"/><ellipse cx="1245.7900000000002" cy="689.39" rx="2.32" ry="1.74" fill="#ffffff" opacity="0.9"/>
<path d="M1249.2,780.2 C1252.3,778.2 1261.9,776.4 1265.7,778.1 C1269.5,779.8 1270.4,784.2 1271.8,790.4 C1273.2,796.5 1274.9,808.8 1273.9,815.0 C1272.9,821.2 1269.1,826.0 1265.7,827.4 C1262.3,828.8 1256.8,826.7 1253.3,823.3 C1249.8,819.9 1246.0,812.4 1245.0,806.9 C1244.0,801.4 1246.5,794.8 1247.2,790.4 C1247.9,786.0 1246.1,782.2 1249.2,780.2 Z" fill="#9dc788" stroke="#4a3f16" stroke-width="2.8"/><circle cx="1260.7" cy="803.6" r="6.5" fill="#8b4f94"/><ellipse cx="1257.775" cy="800.6750000000001" rx="2.6" ry="1.95" fill="#ffffff" opacity="0.9"/>
<text x="652" y="68" font-family="Liberation Serif" font-weight="bold" font-size="60" fill="#156cbd">Physical strategy</text>
<rect x="1097.7" y="44.3" width="10.3" height="9.4" fill="#156cbd"/><rect x="1097.7" y="58.9" width="10.3" height="9.4" fill="#156cbd"/>
<text x="1148.5" y="68" font-family="Liberation Serif" font-weight="bold" font-size="60" fill="#156cbd">physical filling</text>
<text x="676.5" y="473" font-family="Liberation Serif" font-weight="bold" font-size="60" fill="#bc0b13">Biological strategy</text>
<rect x="1162.4" y="450" width="10.4" height="9" fill="#bc0b13"/><rect x="1162.4" y="464" width="10.4" height="9.2" fill="#bc0b13"/>
<text x="1213" y="473" font-family="Liberation Serif" font-weight="bold" font-size="60" fill="#bc0b13">antioxidant</text>
<text x="271" y="330" font-family="Liberation Serif" font-size="48.5" fill="#000">CBD@PCL</text>
<text x="759" y="331" font-family="Liberation Serif" font-size="48.5" fill="#000">CMC</text>
<text x="1221" y="328" font-family="Liberation Serif" font-size="48" fill="#000">CNF</text>
<text x="1718" y="403" font-family="Liberation Serif" font-size="48.3" fill="#000">CMC/CNF/CP</text>
<text x="84" y="680.5" font-family="Liberation Serif" font-size="36.5" fill="#000">ROS</text>
<text x="83" y="812" font-family="Liberation Serif" font-size="37.5" fill="#000">CBD</text>
<text x="1431" y="611" font-family="Liberation Serif" font-size="48" fill="#000">ROS scavenging</text>
<text transform="translate(2134.5,44) rotate(90)" font-family="Liberation Serif" font-weight="bold" font-size="35.5" fill="#a862d2">Mechanically enhanced</text>
</svg></body></html>
